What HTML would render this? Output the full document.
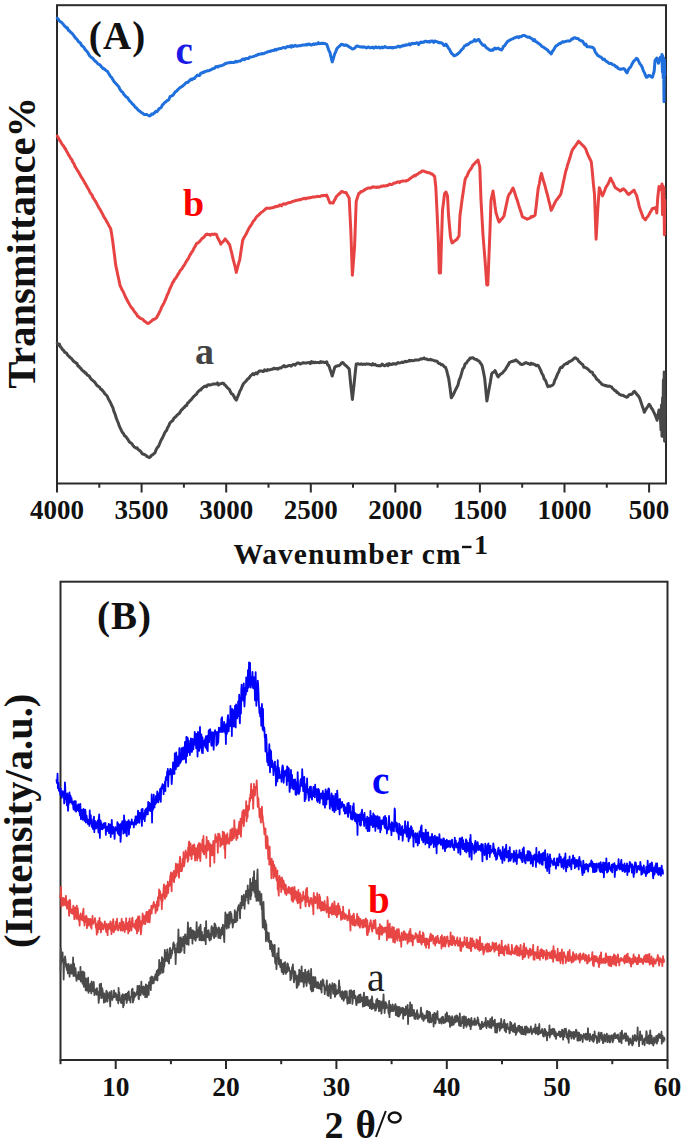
<!DOCTYPE html>
<html><head><meta charset="utf-8"><style>
html,body{margin:0;padding:0;background:#fff;}
body{width:685px;height:1143px;overflow:hidden;}
svg{display:block;}
text{font-family:"Liberation Serif",serif;}
</style></head><body>
<svg width="685" height="1143" viewBox="0 0 685 1143">
<rect width="685" height="1143" fill="#fff"/>
<!-- Panel A -->
<rect x="57" y="5.2" width="609" height="478.3" fill="none" stroke="#2a2a2a" stroke-width="2"/>
<g fill="none" stroke-linejoin="round" stroke-linecap="round">
<path d="M57.3,18.1 L58.3,19.2 L59.3,20.8 L60.3,21.8 L61.3,22.1 L62.3,23.2 L63.3,24.2 L64.3,25.8 L65.3,26.5 L66.4,27.9 L67.4,27.8 L68.4,30.4 L69.4,30.7 L70.4,32.1 L71.4,32.8 L72.4,33.8 L73.4,35.0 L74.4,36.5 L75.5,38.0 L76.5,38.8 L77.5,40.1 L78.5,41.8 L79.6,42.4 L80.6,43.4 L81.6,45.5 L82.7,46.3 L83.7,47.1 L84.7,48.9 L85.8,50.3 L86.8,51.3 L87.8,52.4 L88.8,54.4 L89.9,56.1 L90.9,57.0 L91.9,57.8 L93.0,58.5 L94.0,60.0 L95.0,61.1 L96.0,61.6 L97.1,62.9 L98.1,64.1 L99.1,64.4 L100.2,65.1 L101.2,66.6 L102.2,67.5 L103.3,68.8 L104.3,68.7 L105.3,69.9 L106.3,70.7 L107.4,71.3 L108.4,73.0 L109.5,74.7 L110.6,76.5 L111.7,77.5 L112.8,79.5 L114.0,81.5 L115.1,82.7 L116.3,84.0 L117.4,85.3 L118.6,86.5 L120.0,89.4 L121.5,91.5 L122.7,92.2 L123.8,94.4 L125.0,95.5 L126.3,97.2 L127.5,97.6 L128.8,99.8 L129.9,101.2 L131.0,102.1 L132.1,103.8 L133.2,104.5 L134.3,105.9 L135.4,107.2 L136.5,107.9 L137.6,109.5 L138.8,110.6 L139.9,111.2 L141.1,112.4 L142.2,112.8 L143.4,113.9 L144.4,114.6 L145.5,114.6 L146.5,114.4 L147.6,115.0 L148.6,115.5 L149.7,115.9 L150.7,115.3 L151.7,113.9 L152.8,114.3 L153.8,113.4 L154.9,112.5 L155.9,111.3 L157.0,111.7 L158.0,110.4 L159.1,108.6 L160.2,108.2 L161.3,107.3 L162.4,104.8 L163.5,104.2 L164.6,102.5 L165.7,102.0 L166.8,100.7 L167.9,100.3 L168.9,99.5 L170.0,96.7 L171.1,96.2 L172.1,95.7 L173.2,95.0 L174.2,93.4 L175.3,91.9 L176.4,91.3 L177.4,90.1 L178.5,89.0 L179.5,88.1 L180.6,87.1 L181.6,86.8 L182.7,86.0 L183.7,85.0 L184.8,84.2 L185.8,82.9 L186.9,82.5 L187.9,82.4 L189.0,81.0 L190.0,80.3 L191.1,79.0 L192.1,79.6 L193.2,78.5 L194.3,78.6 L195.4,77.0 L196.4,76.1 L197.5,75.0 L198.6,75.6 L199.7,75.5 L200.7,73.3 L201.8,73.0 L202.9,72.3 L203.9,72.5 L205.0,71.4 L206.1,71.3 L207.1,70.8 L208.2,70.7 L209.2,70.7 L210.3,69.8 L211.4,69.8 L212.4,68.8 L213.5,68.6 L214.6,68.3 L215.6,66.7 L216.7,66.6 L217.8,67.1 L218.8,66.1 L219.9,66.1 L220.9,65.7 L222.0,65.6 L223.1,64.9 L224.1,64.5 L225.2,63.6 L226.3,63.4 L227.3,63.0 L228.4,62.8 L229.5,62.8 L230.5,62.3 L231.6,62.4 L232.6,62.5 L233.7,62.5 L234.8,62.1 L235.8,61.2 L236.9,61.9 L238.0,61.4 L239.1,61.1 L240.2,61.1 L241.2,60.4 L242.3,59.4 L243.4,58.9 L244.5,59.7 L245.6,58.4 L246.6,58.5 L247.7,58.6 L248.7,58.5 L249.8,56.9 L250.8,57.1 L251.8,56.9 L252.9,56.6 L253.9,56.3 L255.0,55.9 L256.0,55.5 L257.0,55.3 L258.0,54.2 L259.0,54.5 L260.0,54.0 L261.0,54.1 L262.0,53.5 L263.0,53.7 L264.0,53.5 L265.0,52.9 L266.0,52.6 L267.0,52.2 L268.0,51.7 L269.0,51.5 L270.0,51.1 L271.0,51.2 L272.0,50.7 L273.0,50.5 L274.0,50.5 L275.0,49.4 L276.1,50.1 L277.1,49.1 L278.1,48.9 L279.1,48.9 L280.1,48.5 L281.1,48.6 L282.1,48.0 L283.1,47.5 L284.1,47.4 L285.2,48.1 L286.2,47.3 L287.2,46.5 L288.2,46.8 L289.2,46.7 L290.2,45.9 L291.2,47.2 L292.2,45.6 L293.2,46.4 L294.2,46.3 L295.2,45.3 L296.2,46.0 L297.2,46.2 L298.2,45.8 L299.2,45.6 L300.2,45.8 L301.2,45.3 L302.2,45.3 L303.2,45.0 L304.2,44.9 L305.2,45.1 L306.2,44.3 L307.2,45.0 L308.2,44.3 L309.2,44.0 L310.2,44.6 L311.2,45.1 L312.2,44.7 L313.3,43.9 L314.3,44.4 L315.3,43.8 L316.3,43.9 L317.3,43.9 L318.3,42.7 L319.3,43.8 L320.3,43.6 L321.4,43.3 L322.4,43.5 L323.5,43.3 L324.6,43.4 L325.6,43.8 L326.7,44.3 L327.8,47.3 L328.8,50.4 L329.9,52.3 L331.0,57.1 L332.2,61.9 L333.4,58.4 L334.7,53.9 L335.8,51.6 L336.8,48.8 L337.9,47.5 L339.0,46.5 L340.1,45.6 L341.2,44.3 L342.3,44.4 L343.3,45.0 L344.4,45.4 L345.5,45.0 L346.5,45.0 L347.6,45.9 L348.8,46.6 L350.0,47.4 L351.2,48.1 L352.4,49.0 L353.6,48.7 L354.8,48.2 L356.0,46.5 L357.2,45.9 L358.4,46.4 L359.6,46.8 L360.8,46.9 L362.0,46.8 L363.1,47.3 L364.1,46.7 L365.2,47.3 L366.3,47.9 L367.4,47.5 L368.4,46.9 L369.5,47.5 L370.6,47.8 L371.7,47.5 L372.8,47.1 L373.8,48.1 L374.9,47.5 L375.9,46.9 L376.9,47.7 L377.9,47.5 L378.9,47.0 L379.9,48.0 L380.9,47.7 L381.9,47.0 L382.9,47.8 L383.9,47.3 L385.0,46.6 L386.0,47.2 L387.0,47.6 L388.0,47.8 L389.0,47.6 L390.0,47.5 L391.0,47.7 L392.0,47.4 L393.0,48.0 L394.0,47.5 L395.0,47.4 L396.0,47.2 L397.0,47.1 L398.0,46.2 L399.0,46.2 L400.0,47.0 L401.0,46.3 L402.0,45.8 L403.0,45.9 L404.0,45.3 L405.0,45.4 L406.0,44.8 L407.0,44.9 L408.1,44.8 L409.1,43.8 L410.2,44.9 L411.3,43.9 L412.3,43.3 L413.4,43.7 L414.5,43.4 L415.5,43.5 L416.6,42.7 L417.7,43.2 L418.7,44.5 L419.8,42.7 L420.9,42.0 L421.9,42.6 L423.0,42.1 L424.1,42.2 L425.2,41.2 L426.2,41.3 L427.3,41.9 L428.4,41.5 L429.5,42.2 L430.6,41.0 L431.6,41.2 L432.7,41.0 L433.7,42.5 L434.7,41.1 L435.7,41.2 L436.7,41.8 L437.7,42.0 L438.7,42.7 L439.7,42.5 L440.7,42.7 L441.8,42.9 L442.8,43.9 L443.9,45.5 L445.0,45.4 L446.0,44.1 L447.1,45.9 L448.3,47.8 L449.6,49.5 L450.8,52.2 L452.0,53.9 L453.0,54.4 L454.0,55.8 L455.0,55.5 L456.1,55.1 L457.3,54.3 L458.5,53.2 L459.6,52.3 L460.8,50.7 L462.1,49.3 L463.3,48.1 L464.5,45.9 L465.5,45.6 L466.5,44.7 L467.5,44.9 L468.5,43.9 L469.5,43.2 L470.5,42.4 L471.5,42.0 L472.5,41.7 L473.6,41.0 L474.6,39.7 L475.7,41.1 L476.8,40.5 L477.8,39.8 L478.9,39.5 L480.0,41.6 L481.0,42.9 L482.1,44.3 L483.3,45.4 L484.5,45.1 L485.7,47.0 L486.9,48.1 L488.1,48.8 L489.3,49.8 L490.5,50.4 L491.7,50.0 L492.8,50.3 L493.9,48.8 L494.9,48.1 L496.0,49.0 L497.1,48.4 L498.2,48.1 L499.3,49.2 L500.3,49.3 L501.4,50.0 L502.5,48.6 L503.5,46.4 L504.6,45.8 L505.7,43.9 L506.7,42.7 L507.8,41.1 L508.9,40.8 L509.9,39.9 L511.0,39.6 L512.1,38.9 L513.1,38.7 L514.2,37.8 L515.3,37.8 L516.4,37.1 L517.4,36.8 L518.5,37.6 L519.6,36.5 L520.7,36.8 L521.7,36.3 L522.8,35.6 L523.9,35.6 L525.0,35.6 L526.0,36.4 L527.1,36.8 L528.2,37.3 L529.2,36.9 L530.3,37.8 L531.4,38.3 L532.4,39.2 L533.5,40.7 L534.6,39.6 L535.6,41.6 L536.7,41.9 L537.8,43.0 L538.8,43.4 L539.9,44.3 L541.0,45.3 L542.0,46.6 L543.1,46.9 L544.2,47.7 L545.2,48.5 L546.3,49.1 L547.5,50.0 L548.8,51.7 L550.0,52.6 L551.2,53.9 L552.4,51.5 L553.6,49.9 L554.8,47.8 L556.0,45.9 L557.1,45.5 L558.1,44.5 L559.2,43.6 L560.3,43.8 L561.3,42.8 L562.4,41.7 L563.5,42.2 L564.5,41.8 L565.6,41.4 L566.7,41.1 L567.7,41.1 L568.8,41.1 L569.9,41.0 L570.9,40.1 L572.0,38.8 L573.1,38.9 L574.1,37.7 L575.2,37.8 L576.3,38.4 L577.4,38.4 L578.5,38.9 L579.5,40.1 L580.6,40.5 L581.7,41.1 L582.8,41.3 L583.8,43.3 L584.9,44.9 L586.0,44.2 L587.0,46.7 L588.1,46.8 L589.3,46.7 L590.5,46.9 L591.7,47.2 L592.9,47.5 L594.1,48.8 L595.3,52.1 L596.5,53.7 L597.7,55.5 L598.8,55.9 L599.9,56.8 L600.9,57.0 L602.0,58.2 L603.1,59.5 L604.2,59.0 L605.2,60.3 L606.3,61.3 L607.4,61.9 L608.5,62.9 L609.5,63.6 L610.6,63.3 L611.7,63.7 L612.7,64.8 L613.8,64.9 L614.9,65.5 L615.9,66.7 L617.0,66.7 L618.0,68.4 L619.0,68.6 L620.0,69.4 L621.2,69.0 L622.3,69.1 L623.5,68.5 L624.7,69.1 L625.8,71.4 L627.0,72.9 L628.3,69.8 L629.6,67.7 L630.7,67.0 L631.8,64.5 L632.9,62.5 L634.0,60.7 L635.2,60.0 L636.3,58.4 L637.5,58.9 L638.7,61.3 L639.8,63.7 L641.0,65.0 L642.2,67.3 L643.3,70.6 L644.5,72.9 L646.3,77.3 L647.5,77.0 L648.6,75.4 L649.8,75.5 L651.1,76.8 L652.4,77.3 L654.2,71.2 L655.0,60.7 L656.8,58.0 L658.5,63.3 L660.3,57.2 L661.5,60.0 L662.0,54.5 L662.4,72.0 L662.8,56.0 L663.2,78.0 L663.6,58.0 L664.0,101.8 L664.4,60.0 L664.8,75.0" stroke="#1f6fdd" stroke-width="3"/>
<path d="M57.3,136.1 L58.3,137.8 L59.3,139.7 L60.4,141.3 L61.4,143.0 L62.4,144.9 L63.4,145.7 L64.4,147.5 L65.5,149.0 L66.5,151.0 L67.5,152.7 L68.6,154.9 L69.6,156.4 L70.7,158.4 L71.8,159.6 L72.8,162.1 L73.9,163.6 L74.9,166.3 L76.0,167.9 L77.1,169.8 L78.1,171.3 L79.2,173.2 L80.3,175.2 L81.3,177.1 L82.4,178.7 L83.5,180.5 L84.5,182.4 L85.6,184.1 L86.6,186.0 L87.7,188.0 L88.8,189.7 L89.8,192.0 L90.9,193.6 L92.0,195.0 L93.0,197.6 L94.1,199.0 L95.2,200.9 L96.2,202.5 L97.3,204.7 L98.3,206.5 L99.4,208.5 L100.5,210.1 L101.5,212.2 L102.6,214.0 L103.6,216.4 L104.6,217.8 L105.6,219.3 L106.7,221.6 L107.7,223.1 L108.7,225.2 L109.7,227.0 L110.7,228.7 L111.8,235.1 L112.8,241.8 L114.2,252.9 L115.7,265.1 L116.8,270.1 L117.9,275.5 L119.0,280.4 L120.1,285.6 L121.2,287.9 L122.3,290.3 L123.4,292.0 L124.5,294.7 L125.5,297.0 L126.6,299.0 L127.7,301.3 L128.8,303.1 L129.9,305.1 L131.0,307.1 L132.1,308.1 L133.2,309.7 L134.3,311.5 L135.4,312.7 L136.5,314.1 L137.6,316.2 L138.6,316.7 L139.6,317.8 L140.7,318.5 L141.7,318.7 L142.7,319.3 L143.7,320.5 L144.7,321.3 L145.8,322.0 L146.8,323.0 L147.8,323.5 L148.9,323.1 L150.0,322.1 L151.1,321.5 L152.2,320.3 L153.3,319.5 L154.4,319.2 L155.5,318.6 L156.6,317.7 L157.6,315.8 L158.7,313.7 L159.7,311.7 L160.8,309.6 L161.8,306.7 L162.9,305.0 L163.9,303.1 L165.0,300.7 L166.1,298.2 L167.2,295.0 L168.2,293.3 L169.3,290.2 L170.4,287.7 L171.5,285.3 L172.6,282.7 L173.7,281.3 L174.7,279.1 L175.8,278.2 L176.9,276.3 L177.9,274.5 L179.0,273.0 L180.0,270.8 L181.1,269.7 L182.2,268.4 L183.2,266.5 L184.3,265.1 L185.4,263.1 L186.4,261.3 L187.5,259.6 L188.6,258.0 L189.6,255.8 L190.7,253.9 L191.7,252.3 L192.8,250.9 L193.9,248.3 L194.9,246.7 L196.0,244.7 L197.0,243.2 L198.0,243.1 L199.1,241.8 L200.1,241.0 L201.1,239.6 L202.1,238.3 L203.1,237.8 L204.2,236.8 L205.2,235.3 L206.2,234.5 L207.2,234.1 L208.2,234.6 L209.3,234.4 L210.3,235.3 L211.3,234.3 L212.3,234.3 L213.3,234.5 L214.4,234.0 L215.4,234.2 L216.4,234.5 L217.5,237.4 L218.6,239.3 L219.7,241.5 L220.8,244.1 L221.9,242.4 L223.0,241.7 L224.1,240.4 L225.2,238.9 L226.3,240.4 L227.4,241.7 L228.5,243.3 L229.6,244.7 L230.7,249.2 L231.8,253.2 L232.8,258.0 L233.9,262.2 L235.1,266.7 L236.3,272.4 L237.5,267.6 L238.6,263.6 L239.8,259.3 L241.2,249.8 L242.7,240.3 L243.8,237.8 L245.0,236.0 L246.1,234.0 L247.3,231.6 L248.4,229.4 L249.6,227.1 L250.7,225.7 L251.8,224.0 L252.9,221.9 L253.9,220.6 L255.0,219.4 L256.1,217.4 L257.2,216.1 L258.2,215.5 L259.3,214.4 L260.4,213.3 L261.4,212.3 L262.5,211.7 L263.6,210.8 L264.6,209.8 L265.7,208.8 L266.8,208.1 L267.8,208.3 L268.9,208.3 L270.0,208.2 L271.0,207.9 L272.1,207.7 L273.2,207.6 L274.2,207.3 L275.3,206.6 L276.4,206.7 L277.4,206.2 L278.5,206.2 L279.5,205.1 L280.5,205.0 L281.5,205.8 L282.5,204.5 L283.5,203.8 L284.5,204.0 L285.5,204.2 L286.6,203.4 L287.6,203.2 L288.6,202.7 L289.6,202.4 L290.6,202.5 L291.6,202.0 L292.6,201.4 L293.6,201.3 L294.6,200.7 L295.6,200.8 L296.6,200.2 L297.6,200.2 L298.6,200.0 L299.6,199.5 L300.6,199.8 L301.6,199.2 L302.6,198.9 L303.6,198.4 L304.6,198.3 L305.6,199.0 L306.6,198.0 L307.6,198.2 L308.6,197.8 L309.6,197.9 L310.6,197.5 L311.6,197.5 L312.6,197.0 L313.6,196.9 L314.6,196.9 L315.6,196.8 L316.6,196.6 L317.6,196.3 L318.6,196.4 L319.7,196.5 L320.7,196.1 L321.7,195.6 L322.7,195.7 L323.7,195.5 L324.7,195.5 L325.7,195.7 L326.7,195.0 L327.8,197.6 L328.8,200.3 L329.9,203.0 L331.0,202.7 L332.0,202.9 L333.1,203.0 L334.2,200.7 L335.2,199.2 L336.3,196.6 L337.5,195.5 L338.8,194.0 L340.0,193.5 L341.2,191.7 L342.4,191.5 L343.6,192.3 L344.8,192.5 L346.0,192.4 L347.1,194.5 L348.1,196.2 L349.2,198.2 L350.8,230.3 L352.4,275.2 L353.5,260.7 L354.6,246.3 L356.2,201.4 L357.5,197.3 L358.8,193.4 L359.9,193.0 L361.0,191.5 L362.0,191.4 L363.1,191.0 L364.2,190.2 L365.3,189.2 L366.3,189.0 L367.4,188.3 L368.5,187.9 L369.5,188.0 L370.5,188.1 L371.5,187.6 L372.5,186.8 L373.5,187.2 L374.5,186.9 L375.5,187.3 L376.5,187.5 L377.5,186.9 L378.5,187.3 L379.5,187.0 L380.5,186.7 L381.5,186.1 L382.5,186.3 L383.5,185.7 L384.5,186.0 L385.5,186.1 L386.5,185.5 L387.5,185.6 L388.5,185.0 L389.5,184.1 L390.5,184.5 L391.5,184.4 L392.6,184.3 L393.6,183.2 L394.6,183.0 L395.6,183.0 L396.6,182.4 L397.6,182.0 L398.6,181.8 L399.6,182.6 L400.6,181.5 L401.7,181.2 L402.7,180.9 L403.8,180.9 L404.9,180.9 L405.9,181.1 L407.0,180.5 L408.1,180.1 L409.1,179.4 L410.2,178.4 L411.3,177.8 L412.3,176.8 L413.4,176.3 L414.5,175.3 L415.5,175.7 L416.6,174.4 L417.7,174.2 L418.7,173.2 L419.8,172.7 L420.9,172.1 L421.9,171.1 L423.0,170.9 L424.0,171.2 L425.0,171.6 L426.0,172.1 L427.0,172.3 L428.0,172.7 L429.0,172.8 L430.0,173.0 L431.1,173.9 L432.3,174.1 L433.5,175.3 L434.6,176.3 L435.8,187.0 L437.3,217.5 L438.3,240.0 L439.3,273.0 L440.5,273.0 L441.5,240.0 L442.5,210.0 L443.5,202.5 L444.5,194.0 L446.0,192.0 L447.5,196.0 L448.5,215.0 L449.5,226.1 L450.5,237.0 L452.0,243.0 L453.0,242.5 L454.0,241.5 L455.0,240.6 L456.0,240.0 L457.0,239.3 L458.0,237.5 L459.0,236.0 L460.0,215.0 L461.0,208.0 L462.0,200.0 L463.0,193.5 L464.0,186.6 L465.0,180.0 L466.0,177.4 L467.0,176.1 L468.0,173.6 L469.0,171.4 L470.0,170.0 L471.0,168.7 L472.0,166.9 L473.0,165.0 L474.0,164.2 L475.0,163.0 L476.0,162.0 L477.0,161.2 L478.0,160.0 L479.8,167.0 L481.0,200.0 L482.0,217.6 L483.0,235.0 L484.0,247.5 L485.0,260.0 L486.8,285.0 L487.8,285.0 L488.8,260.0 L490.0,230.0 L491.0,200.0 L492.0,195.7 L493.0,191.0 L494.0,197.6 L495.0,206.0 L496.0,213.0 L497.0,215.8 L498.0,219.3 L499.0,222.0 L500.0,221.2 L501.0,219.4 L502.0,218.7 L503.0,217.5 L504.0,216.0 L505.0,211.1 L506.0,206.4 L507.0,201.8 L508.0,197.0 L509.0,194.5 L510.0,193.3 L511.0,191.7 L512.0,189.7 L513.0,188.0 L514.1,190.7 L515.2,194.2 L516.3,197.9 L517.4,200.6 L518.6,205.0 L519.8,208.6 L521.1,212.4 L522.3,216.7 L523.5,217.3 L524.7,218.0 L525.9,218.4 L527.1,219.3 L528.1,218.7 L529.1,218.4 L530.1,218.0 L531.1,216.5 L532.1,217.0 L533.1,216.2 L534.1,216.0 L535.1,215.1 L536.2,206.0 L537.2,197.0 L538.3,187.8 L539.4,183.5 L540.4,177.3 L541.5,173.4 L542.7,178.3 L543.9,182.3 L545.1,186.1 L546.3,191.0 L547.5,195.0 L548.8,200.7 L550.0,205.2 L551.2,210.3 L552.4,208.2 L553.6,205.5 L554.8,203.0 L556.0,200.6 L557.2,199.3 L558.4,197.5 L559.6,196.0 L560.8,194.2 L562.0,188.8 L563.2,183.0 L564.4,177.6 L565.6,171.7 L566.7,168.5 L567.7,164.4 L568.8,161.2 L569.9,157.8 L570.9,154.3 L572.0,150.9 L573.1,148.8 L574.1,147.5 L575.2,146.2 L576.3,144.5 L577.3,143.3 L578.4,141.2 L579.5,142.1 L580.6,143.2 L581.6,144.3 L582.7,145.4 L583.8,146.4 L584.9,147.7 L586.0,149.5 L587.0,152.6 L588.1,155.2 L589.2,157.6 L590.2,159.4 L591.3,162.1 L592.4,172.7 L593.4,184.1 L594.5,194.2 L596.1,239.2 L597.7,210.3 L599.3,187.8 L600.4,190.4 L601.4,193.2 L602.5,195.8 L603.6,193.1 L604.6,190.8 L605.7,187.8 L606.9,185.7 L608.2,183.7 L609.4,180.8 L610.6,178.2 L611.8,180.7 L613.0,182.6 L614.2,185.3 L615.4,187.8 L616.5,188.4 L617.7,189.3 L618.9,189.8 L620.0,191.0 L621.2,190.6 L622.3,189.2 L623.5,188.8 L624.6,190.0 L625.6,190.7 L626.7,192.3 L627.7,193.9 L628.8,194.5 L629.8,193.4 L630.9,192.8 L631.9,191.8 L633.0,191.1 L634.0,190.1 L635.3,192.9 L636.6,195.4 L638.0,200.9 L639.3,206.8 L640.6,210.4 L641.9,213.9 L643.2,217.7 L644.3,218.6 L645.4,219.9 L646.6,217.8 L647.7,216.7 L648.9,214.7 L650.1,212.4 L651.2,210.8 L652.4,208.5 L653.6,208.4 L654.7,207.7 L655.9,207.7 L656.8,212.9 L657.7,198.0 L659.0,186.6 L660.0,188.6 L661.0,190.0 L662.0,184.0 L662.5,214.7 L663.0,186.0 L663.5,210.0 L663.9,187.5 L664.4,234.8 L664.8,200.0" stroke="#e84343" stroke-width="3"/>
<path d="M57.3,343.1 L58.4,345.1 L59.4,344.1 L60.5,347.1 L61.6,347.9 L62.6,349.7 L63.7,350.5 L64.7,352.3 L65.8,352.7 L66.9,353.7 L67.9,355.4 L69.0,356.3 L70.0,357.5 L71.0,358.1 L72.0,359.2 L73.0,360.6 L74.0,361.6 L75.0,362.1 L76.0,363.1 L77.0,363.5 L78.0,366.1 L79.0,366.2 L80.0,367.9 L81.0,368.5 L82.0,370.2 L83.0,371.0 L84.0,371.4 L85.0,373.0 L86.0,372.9 L87.0,374.9 L88.0,375.3 L89.0,375.8 L90.1,377.7 L91.2,379.2 L92.2,379.9 L93.2,380.8 L94.3,381.7 L95.4,383.1 L96.4,384.8 L97.5,385.9 L98.5,386.5 L99.6,387.2 L100.6,389.2 L101.7,389.4 L102.7,390.9 L103.8,392.0 L104.8,393.8 L105.9,394.7 L106.9,395.7 L108.1,398.2 L109.3,400.5 L110.4,402.4 L111.6,405.3 L112.8,407.4 L113.9,411.3 L115.0,413.9 L116.1,417.5 L117.2,420.5 L118.3,423.0 L119.3,426.1 L120.4,428.4 L121.5,430.7 L122.5,432.6 L123.6,433.8 L124.6,435.9 L125.7,436.4 L126.7,437.9 L127.8,439.3 L128.8,441.0 L129.8,442.3 L130.9,442.8 L131.9,443.8 L133.0,445.4 L134.0,446.7 L135.1,447.4 L136.1,448.2 L137.1,447.8 L138.2,449.5 L139.2,450.2 L140.3,451.0 L141.3,452.2 L142.4,454.1 L143.4,454.1 L144.6,454.7 L145.8,455.2 L146.9,456.5 L148.1,456.9 L149.3,457.6 L150.5,456.7 L151.6,455.3 L152.8,454.6 L153.9,453.8 L155.1,452.6 L156.1,449.7 L157.2,447.7 L158.2,446.8 L159.3,444.6 L160.3,441.9 L161.4,439.6 L162.4,438.0 L163.4,435.8 L164.5,433.3 L165.5,431.6 L166.6,430.4 L167.6,427.6 L168.7,426.0 L169.7,423.4 L170.7,422.1 L171.8,421.3 L172.8,420.6 L173.9,418.2 L174.9,417.5 L176.0,416.4 L177.0,415.3 L178.0,414.3 L179.1,413.7 L180.1,412.2 L181.2,410.1 L182.2,409.5 L183.3,408.1 L184.3,407.4 L185.4,405.7 L186.5,405.8 L187.6,403.1 L188.7,402.4 L189.8,400.7 L190.9,400.1 L192.0,398.6 L193.1,397.2 L194.2,396.2 L195.3,395.0 L196.4,394.4 L197.4,392.4 L198.5,391.4 L199.6,390.1 L200.7,390.1 L201.8,388.4 L203.0,387.6 L204.2,386.5 L205.3,386.1 L206.5,386.7 L207.7,384.9 L208.8,384.7 L209.9,385.1 L211.0,384.8 L212.1,384.4 L213.1,384.0 L214.2,384.1 L215.3,384.0 L216.4,384.0 L217.4,382.9 L218.5,385.0 L219.5,384.2 L220.6,383.7 L221.6,383.5 L222.7,383.1 L223.7,383.4 L224.8,385.1 L225.9,385.8 L227.0,387.4 L228.1,388.4 L229.2,389.2 L230.3,391.5 L231.4,393.7 L232.5,394.2 L233.8,396.0 L235.0,398.5 L236.3,400.1 L237.5,397.2 L238.6,394.7 L239.8,391.3 L241.0,389.3 L242.1,386.5 L243.3,384.0 L244.4,382.6 L245.4,381.8 L246.5,380.6 L247.5,379.1 L248.6,378.5 L249.6,377.3 L250.7,375.6 L251.7,374.8 L252.8,373.7 L253.9,374.7 L255.0,373.5 L256.0,372.9 L257.1,373.8 L258.2,372.2 L259.2,371.0 L260.3,371.0 L261.4,370.9 L262.5,371.4 L263.6,371.5 L264.6,369.8 L265.7,370.5 L266.7,370.8 L267.7,369.5 L268.8,370.0 L269.8,369.8 L270.8,369.6 L271.8,369.2 L272.9,369.0 L273.9,368.2 L274.9,368.7 L275.9,368.8 L276.9,368.5 L278.0,369.1 L279.0,368.2 L280.0,367.8 L281.0,368.0 L282.1,367.1 L283.1,366.2 L284.1,365.6 L285.1,366.9 L286.2,366.4 L287.2,366.3 L288.2,365.7 L289.2,365.4 L290.2,365.5 L291.2,366.1 L292.2,365.2 L293.2,364.4 L294.2,364.5 L295.2,365.2 L296.2,363.9 L297.2,363.1 L298.2,363.0 L299.2,363.3 L300.2,364.1 L301.2,363.6 L302.2,363.1 L303.2,362.7 L304.2,363.1 L305.2,363.0 L306.2,362.9 L307.3,362.7 L308.3,362.8 L309.3,362.5 L310.3,363.6 L311.4,361.6 L312.4,362.7 L313.4,362.1 L314.4,362.8 L315.4,362.3 L316.5,362.6 L317.5,362.6 L318.5,362.4 L319.5,362.7 L320.6,361.5 L321.6,362.5 L322.6,361.9 L323.6,362.1 L324.7,362.6 L325.7,362.4 L326.7,361.8 L327.8,365.1 L328.8,365.5 L329.9,368.9 L331.0,372.0 L332.2,376.0 L333.4,372.1 L334.7,367.3 L335.8,366.3 L336.8,366.2 L337.9,365.7 L339.1,365.7 L340.4,364.5 L341.6,362.9 L342.8,362.5 L343.9,363.8 L344.9,364.9 L346.0,365.7 L347.1,366.7 L348.1,367.9 L349.2,368.9 L350.8,385.0 L352.4,399.4 L354.0,385.0 L355.1,373.9 L356.2,364.1 L357.2,364.2 L358.2,363.7 L359.3,364.3 L360.3,364.3 L361.3,363.7 L362.4,364.4 L363.4,364.3 L364.4,364.1 L365.4,364.4 L366.4,364.0 L367.5,364.0 L368.5,364.1 L369.6,364.3 L370.6,364.4 L371.7,365.1 L372.8,363.7 L373.8,364.8 L374.9,364.3 L376.0,365.1 L377.0,365.6 L378.1,365.7 L379.1,365.6 L380.1,365.9 L381.1,365.5 L382.1,364.1 L383.1,364.7 L384.1,365.8 L385.1,365.7 L386.1,364.9 L387.1,364.1 L388.1,365.7 L389.1,363.6 L390.1,364.6 L391.1,364.3 L392.1,364.4 L393.1,363.6 L394.1,364.1 L395.1,363.7 L396.1,364.2 L397.1,363.2 L398.1,362.6 L399.1,363.1 L400.1,362.9 L401.1,362.6 L402.1,362.1 L403.2,362.5 L404.2,362.0 L405.2,361.3 L406.2,361.8 L407.2,361.4 L408.2,361.3 L409.2,360.3 L410.2,360.9 L411.3,360.3 L412.3,360.7 L413.4,360.7 L414.5,360.3 L415.5,360.0 L416.6,360.0 L417.7,360.0 L418.7,360.1 L419.8,359.4 L420.9,358.7 L421.9,359.0 L423.0,358.6 L424.1,357.9 L425.1,359.0 L426.2,359.0 L427.3,359.3 L428.4,359.8 L429.4,359.8 L430.5,359.3 L431.6,360.0 L432.7,360.0 L433.8,360.5 L434.8,360.9 L435.9,360.9 L437.0,361.2 L438.0,362.6 L439.1,363.6 L440.2,363.6 L441.2,364.8 L442.3,364.5 L443.4,365.6 L444.4,367.0 L445.5,367.3 L446.6,370.2 L447.6,374.5 L448.7,378.5 L450.0,387.7 L451.3,397.8 L452.5,396.2 L453.6,394.0 L454.8,391.4 L455.9,389.0 L456.9,387.2 L458.0,385.0 L459.2,379.8 L460.4,377.3 L461.6,373.1 L462.8,368.9 L464.0,367.5 L465.2,363.8 L466.5,363.1 L467.7,360.9 L468.9,359.9 L470.1,358.1 L471.3,358.2 L472.5,357.7 L473.6,358.2 L474.6,359.1 L475.7,359.4 L476.8,359.6 L477.8,360.6 L478.9,360.9 L480.0,362.4 L481.0,363.8 L482.1,365.7 L483.4,371.6 L484.7,378.5 L485.8,389.8 L486.9,401.0 L488.0,394.7 L489.2,388.2 L490.4,381.8 L491.7,373.7 L492.8,372.4 L493.9,372.3 L495.0,370.5 L496.1,372.8 L497.1,375.3 L498.2,376.9 L499.3,375.4 L500.3,374.4 L501.4,373.6 L502.5,373.0 L503.5,371.6 L504.6,370.5 L505.8,368.8 L507.0,366.6 L508.2,365.0 L509.4,362.5 L510.5,362.2 L511.5,361.4 L512.6,361.4 L513.7,360.8 L514.7,361.1 L515.8,359.9 L517.0,360.9 L518.2,362.0 L519.4,362.9 L520.6,364.1 L521.7,364.5 L522.8,364.2 L523.9,363.9 L524.9,362.9 L526.0,362.6 L527.1,363.1 L528.1,363.5 L529.1,363.9 L530.2,364.5 L531.2,363.2 L532.2,364.2 L533.2,363.8 L534.2,364.3 L535.2,364.9 L536.3,365.7 L537.3,365.2 L538.3,365.7 L539.5,367.8 L540.7,370.4 L541.9,373.5 L543.1,375.3 L544.3,379.2 L545.5,380.3 L546.7,383.7 L547.9,386.6 L549.1,386.0 L550.3,386.3 L551.6,385.6 L552.8,385.0 L553.8,383.5 L554.8,380.1 L555.8,378.4 L556.8,375.9 L557.8,373.4 L558.8,371.7 L559.8,369.0 L560.8,367.3 L562.0,367.5 L563.2,365.9 L564.4,364.4 L565.6,364.1 L566.7,363.1 L567.7,363.5 L568.8,361.8 L569.9,361.6 L570.9,360.8 L572.0,360.3 L573.1,359.4 L574.1,358.3 L575.2,357.7 L576.3,358.5 L577.4,359.0 L578.4,360.9 L579.5,362.0 L580.6,362.9 L581.7,364.0 L582.7,364.6 L583.8,367.2 L584.9,367.3 L586.0,367.9 L587.0,368.4 L588.1,369.4 L589.2,370.4 L590.2,371.6 L591.3,372.1 L592.3,372.2 L593.3,374.7 L594.3,375.4 L595.3,376.8 L596.3,378.6 L597.3,379.6 L598.3,380.2 L599.3,381.7 L600.5,382.5 L601.7,384.2 L602.9,384.8 L604.1,385.0 L605.2,385.7 L606.3,385.5 L607.4,386.2 L608.4,386.2 L609.5,386.1 L610.6,386.6 L611.7,387.0 L612.7,388.6 L613.8,389.4 L614.9,390.7 L615.9,390.8 L617.0,392.6 L618.1,392.7 L619.1,394.3 L620.2,394.6 L621.3,395.3 L622.3,395.2 L623.4,395.5 L624.5,396.3 L625.5,396.6 L626.6,397.2 L627.6,396.9 L628.6,395.4 L629.6,394.4 L630.6,394.3 L631.6,394.4 L632.6,393.6 L633.6,391.8 L634.6,391.4 L635.8,392.9 L637.0,394.7 L638.3,395.9 L639.5,397.8 L640.7,401.3 L641.9,404.9 L643.1,408.2 L644.3,412.3 L645.5,410.0 L646.7,408.0 L647.9,406.3 L649.1,404.2 L650.3,405.7 L651.5,408.3 L652.7,409.8 L653.9,412.3 L655.0,414.6 L656.0,417.1 L657.1,420.3 L659.0,410.0 L660.3,413.9 L661.0,430.0 L661.5,405.0 L662.0,436.3 L662.6,397.8 L663.0,425.0 L663.4,380.0 L663.8,435.0 L664.2,372.1 L664.6,441.2 L665.0,400.0" stroke="#474747" stroke-width="3"/>
</g>
<g stroke="#2a2a2a" stroke-width="2"><line x1="57.0" y1="483.5" x2="57.0" y2="492.5"/>
<line x1="99.3" y1="483.5" x2="99.3" y2="487.7"/>
<line x1="141.6" y1="483.5" x2="141.6" y2="492.5"/>
<line x1="183.9" y1="483.5" x2="183.9" y2="487.7"/>
<line x1="226.2" y1="483.5" x2="226.2" y2="492.5"/>
<line x1="268.5" y1="483.5" x2="268.5" y2="487.7"/>
<line x1="310.8" y1="483.5" x2="310.8" y2="492.5"/>
<line x1="353.0" y1="483.5" x2="353.0" y2="487.7"/>
<line x1="395.3" y1="483.5" x2="395.3" y2="492.5"/>
<line x1="437.6" y1="483.5" x2="437.6" y2="487.7"/>
<line x1="479.9" y1="483.5" x2="479.9" y2="492.5"/>
<line x1="522.2" y1="483.5" x2="522.2" y2="487.7"/>
<line x1="564.5" y1="483.5" x2="564.5" y2="492.5"/>
<line x1="606.8" y1="483.5" x2="606.8" y2="487.7"/>
<line x1="649.1" y1="483.5" x2="649.1" y2="492.5"/></g>
<g font-size="27" font-weight="bold" fill="#111"><text x="57.0" y="519" text-anchor="middle">4000</text>
<text x="141.6" y="519" text-anchor="middle">3500</text>
<text x="226.2" y="519" text-anchor="middle">3000</text>
<text x="310.8" y="519" text-anchor="middle">2500</text>
<text x="395.3" y="519" text-anchor="middle">2000</text>
<text x="479.9" y="519" text-anchor="middle">1500</text>
<text x="564.5" y="519" text-anchor="middle">1000</text>
<text x="649.1" y="519" text-anchor="middle">500</text></g>
<text x="88.8" y="48.6" font-size="39" font-weight="bold" fill="#111" letter-spacing="1.2">(A)</text>
<text x="175.5" y="64" font-size="39" font-weight="bold" fill="#1a1ae6">c</text>
<text x="183" y="216" font-size="38" font-weight="bold" fill="#f00">b</text>
<text x="195" y="364" font-size="38" font-weight="bold" fill="#444">a</text>
<text transform="translate(34.6,388.8) rotate(-90)" font-size="40.5" font-weight="bold" fill="#111">Transmittance%</text>
<text x="233.5" y="563.5" font-size="29.5" font-weight="bold" fill="#111" letter-spacing="1">Wavenumber cm</text>
<rect x="462" y="545.8" width="9.5" height="2.4" fill="#111"/>
<text x="474" y="554" font-size="28" font-weight="bold" fill="#111">1</text>
<!-- Panel B -->
<rect x="60.5" y="581.7" width="607" height="478.3" fill="none" stroke="#2a2a2a" stroke-width="2"/>
<g fill="none" stroke-linejoin="round">
<path d="M56.50,779.1 L56.85,783.0 L57.20,781.4 L57.55,773.7 L57.90,788.2 L58.25,787.1 L58.60,783.0 L58.95,790.6 L59.30,790.6 L59.65,791.3 L60.00,791.0 L60.35,794.9 L60.70,788.7 L61.05,792.7 L61.40,791.5 L61.75,797.8 L62.10,795.0 L62.45,793.5 L62.80,791.1 L63.15,794.2 L63.50,795.9 L63.85,794.6 L64.20,803.4 L64.55,802.1 L64.90,782.3 L65.25,787.0 L65.60,796.6 L65.95,795.6 L66.30,799.4 L66.65,799.8 L67.00,805.4 L67.35,793.3 L67.70,797.6 L68.05,810.8 L68.40,803.7 L68.75,804.1 L69.10,798.1 L69.45,792.4 L69.80,802.4 L70.15,802.4 L70.50,795.6 L70.85,798.8 L71.20,802.3 L71.55,798.1 L71.90,802.8 L72.25,804.1 L72.60,804.1 L72.95,801.6 L73.30,807.6 L73.65,809.5 L74.00,806.8 L74.35,801.2 L74.70,809.6 L75.05,803.5 L75.40,810.9 L75.75,801.2 L76.10,811.7 L76.45,807.2 L76.80,805.6 L77.15,806.5 L77.50,808.8 L77.85,810.3 L78.20,804.4 L78.55,804.3 L78.90,811.3 L79.25,808.4 L79.60,812.4 L79.95,815.5 L80.30,803.9 L80.65,813.9 L81.00,819.2 L81.35,812.1 L81.70,810.0 L82.05,815.2 L82.40,816.2 L82.75,819.8 L83.10,814.1 L83.45,808.9 L83.80,816.0 L84.15,814.7 L84.50,820.9 L84.85,818.4 L85.20,809.7 L85.55,812.1 L85.90,822.5 L86.25,821.8 L86.60,815.6 L86.95,819.0 L87.30,821.4 L87.65,821.8 L88.00,824.0 L88.35,821.3 L88.70,819.9 L89.05,819.4 L89.40,825.9 L89.75,810.4 L90.10,820.7 L90.45,821.8 L90.80,815.2 L91.15,823.8 L91.50,819.4 L91.85,826.8 L92.20,822.3 L92.55,826.3 L92.90,829.0 L93.25,825.2 L93.60,819.4 L93.95,816.6 L94.30,832.1 L94.65,823.5 L95.00,820.9 L95.35,824.9 L95.70,823.5 L96.05,828.5 L96.40,824.8 L96.75,824.9 L97.10,821.6 L97.45,827.3 L97.80,820.4 L98.15,828.5 L98.50,832.6 L98.85,818.5 L99.20,814.3 L99.55,828.8 L99.90,837.9 L100.25,821.5 L100.60,820.5 L100.95,829.2 L101.30,822.7 L101.65,824.4 L102.00,825.2 L102.35,829.4 L102.70,825.2 L103.05,828.5 L103.40,826.5 L103.75,823.5 L104.10,826.1 L104.45,823.3 L104.80,827.8 L105.15,822.8 L105.50,823.0 L105.85,834.9 L106.20,828.0 L106.55,828.2 L106.90,830.9 L107.25,826.7 L107.60,827.7 L107.95,830.8 L108.30,830.3 L108.65,823.8 L109.00,833.1 L109.35,826.7 L109.70,824.6 L110.05,825.4 L110.40,827.8 L110.75,837.0 L111.10,824.2 L111.45,830.4 L111.80,819.9 L112.15,829.7 L112.50,833.8 L112.85,828.7 L113.20,826.9 L113.55,830.8 L113.90,833.0 L114.25,832.9 L114.60,838.9 L114.95,830.9 L115.30,827.2 L115.65,829.4 L116.00,829.6 L116.35,830.4 L116.70,829.7 L117.05,830.6 L117.40,822.1 L117.75,833.4 L118.10,826.9 L118.45,824.0 L118.80,832.2 L119.15,835.2 L119.50,831.3 L119.85,829.7 L120.20,824.6 L120.55,841.9 L120.90,836.5 L121.25,823.4 L121.60,824.9 L121.95,828.8 L122.30,821.1 L122.65,829.0 L123.00,826.0 L123.35,833.6 L123.70,832.3 L124.05,815.3 L124.40,827.9 L124.75,820.1 L125.10,832.6 L125.45,828.1 L125.80,829.7 L126.15,822.1 L126.50,835.4 L126.85,836.1 L127.20,821.7 L127.55,828.2 L127.90,823.2 L128.25,826.1 L128.60,820.2 L128.95,834.6 L129.30,821.3 L129.65,824.3 L130.00,827.9 L130.35,822.3 L130.70,824.1 L131.05,822.5 L131.40,824.3 L131.75,819.3 L132.10,822.6 L132.45,823.6 L132.80,822.8 L133.15,824.5 L133.50,822.7 L133.85,827.4 L134.20,822.1 L134.55,822.7 L134.90,819.9 L135.25,820.3 L135.60,816.4 L135.95,824.6 L136.30,816.4 L136.65,818.0 L137.00,823.0 L137.35,822.9 L137.70,816.7 L138.05,810.6 L138.40,822.1 L138.75,821.0 L139.10,812.6 L139.45,822.8 L139.80,815.4 L140.15,813.1 L140.50,818.7 L140.85,817.0 L141.20,818.6 L141.55,809.5 L141.90,825.9 L142.25,813.7 L142.60,808.8 L142.95,819.1 L143.30,814.0 L143.65,817.0 L144.00,813.3 L144.35,814.4 L144.70,821.1 L145.05,810.2 L145.40,817.0 L145.75,810.9 L146.10,808.6 L146.45,812.9 L146.80,814.4 L147.15,810.7 L147.50,807.2 L147.85,814.3 L148.20,801.9 L148.55,805.2 L148.90,810.3 L149.25,802.8 L149.60,809.5 L149.95,808.8 L150.30,811.1 L150.65,803.7 L151.00,804.7 L151.35,809.2 L151.70,794.4 L152.05,822.6 L152.40,802.5 L152.75,801.8 L153.10,809.5 L153.45,801.1 L153.80,794.7 L154.15,806.8 L154.50,807.5 L154.85,800.1 L155.20,800.5 L155.55,804.0 L155.90,796.1 L156.25,802.8 L156.60,801.0 L156.95,795.8 L157.30,791.4 L157.65,797.1 L158.00,793.0 L158.35,802.4 L158.70,797.1 L159.05,799.8 L159.40,795.6 L159.75,795.5 L160.10,789.0 L160.45,796.3 L160.80,801.8 L161.15,789.4 L161.50,787.0 L161.85,788.7 L162.20,786.2 L162.55,784.2 L162.90,788.2 L163.25,785.0 L163.60,794.1 L163.95,785.2 L164.30,786.4 L164.65,789.3 L165.00,781.5 L165.35,791.0 L165.70,778.5 L166.05,776.9 L166.40,778.9 L166.75,779.8 L167.10,771.7 L167.45,779.2 L167.80,769.0 L168.15,786.5 L168.50,777.3 L168.85,773.4 L169.20,771.2 L169.55,773.8 L169.90,774.2 L170.25,768.8 L170.60,768.9 L170.95,772.8 L171.30,770.2 L171.65,784.1 L172.00,779.2 L172.35,771.8 L172.70,774.1 L173.05,762.4 L173.40,773.9 L173.75,769.2 L174.10,771.7 L174.45,773.9 L174.80,753.3 L175.15,768.4 L175.50,759.3 L175.85,769.2 L176.20,752.4 L176.55,761.0 L176.90,764.8 L177.25,766.7 L177.60,762.7 L177.95,756.5 L178.30,757.4 L178.65,765.9 L179.00,759.6 L179.35,748.1 L179.70,763.7 L180.05,760.3 L180.40,762.6 L180.75,754.1 L181.10,761.1 L181.45,748.1 L181.80,758.2 L182.15,750.7 L182.50,757.8 L182.85,759.5 L183.20,747.5 L183.55,751.5 L183.90,751.7 L184.25,758.8 L184.60,755.2 L184.95,741.9 L185.30,752.5 L185.65,754.0 L186.00,762.7 L186.35,736.8 L186.70,744.0 L187.05,756.1 L187.40,737.5 L187.75,738.1 L188.10,749.2 L188.45,752.3 L188.80,740.6 L189.15,748.6 L189.50,745.6 L189.85,755.0 L190.20,744.6 L190.55,751.3 L190.90,738.3 L191.25,743.1 L191.60,743.7 L191.95,752.0 L192.30,748.1 L192.65,739.0 L193.00,748.6 L193.35,749.2 L193.70,743.1 L194.05,742.0 L194.40,742.3 L194.75,732.0 L195.10,744.8 L195.45,745.0 L195.80,737.4 L196.15,748.3 L196.50,733.8 L196.85,739.3 L197.20,739.8 L197.55,756.6 L197.90,732.0 L198.25,746.7 L198.60,749.2 L198.95,745.3 L199.30,750.8 L199.65,735.8 L200.00,727.0 L200.35,747.8 L200.70,734.3 L201.05,740.2 L201.40,734.3 L201.75,749.5 L202.10,752.8 L202.45,737.3 L202.80,753.1 L203.15,742.9 L203.50,741.0 L203.85,742.2 L204.20,740.3 L204.55,745.7 L204.90,743.3 L205.25,738.5 L205.60,747.6 L205.95,736.1 L206.30,742.1 L206.65,742.8 L207.00,749.8 L207.35,735.8 L207.70,751.1 L208.05,740.0 L208.40,737.2 L208.75,730.3 L209.10,742.1 L209.45,735.6 L209.80,729.7 L210.15,729.3 L210.50,733.0 L210.85,731.9 L211.20,744.0 L211.55,745.8 L211.90,742.0 L212.25,738.1 L212.60,732.3 L212.95,735.4 L213.30,741.0 L213.65,749.6 L214.00,740.7 L214.35,732.0 L214.70,734.0 L215.05,730.1 L215.40,732.2 L215.75,731.7 L216.10,734.1 L216.45,745.5 L216.80,732.5 L217.15,741.6 L217.50,744.3 L217.85,732.0 L218.20,742.6 L218.55,736.0 L218.90,727.6 L219.25,732.2 L219.60,730.2 L219.95,728.1 L220.30,728.1 L220.65,730.3 L221.00,732.2 L221.35,718.5 L221.70,728.4 L222.05,717.2 L222.40,729.9 L222.75,732.2 L223.10,728.6 L223.45,729.3 L223.80,731.2 L224.15,721.8 L224.50,724.7 L224.85,729.9 L225.20,733.2 L225.55,728.5 L225.90,744.0 L226.25,724.4 L226.60,732.1 L226.95,733.8 L227.30,723.3 L227.65,718.0 L228.00,715.1 L228.35,724.7 L228.70,731.4 L229.05,725.0 L229.40,724.0 L229.75,719.6 L230.10,726.2 L230.45,705.9 L230.80,723.0 L231.15,721.0 L231.50,710.1 L231.85,736.0 L232.20,709.0 L232.55,710.9 L232.90,709.5 L233.25,726.3 L233.60,710.8 L233.95,726.5 L234.30,721.0 L234.65,718.1 L235.00,705.8 L235.35,710.5 L235.70,727.4 L236.05,704.4 L236.40,707.3 L236.75,711.7 L237.10,718.4 L237.45,713.3 L237.80,716.2 L238.15,701.4 L238.50,716.1 L238.85,712.3 L239.20,694.7 L239.55,718.2 L239.90,723.3 L240.25,698.4 L240.60,704.0 L240.95,713.6 L241.30,689.8 L241.65,684.6 L242.00,694.8 L242.35,693.6 L242.70,692.3 L243.05,700.7 L243.40,696.8 L243.75,683.3 L244.10,696.9 L244.45,706.5 L244.80,699.8 L245.15,692.7 L245.50,687.8 L245.85,694.7 L246.20,677.3 L246.55,687.7 L246.90,682.3 L247.25,691.4 L247.60,684.6 L247.95,670.2 L248.30,679.4 L248.65,687.6 L249.00,662.5 L249.35,671.1 L249.70,669.0 L250.05,662.8 L250.40,684.3 L250.75,687.6 L251.10,683.6 L251.45,679.1 L251.80,676.9 L252.15,679.7 L252.50,671.9 L252.85,686.4 L253.20,688.4 L253.55,688.4 L253.90,677.2 L254.25,683.6 L254.60,682.7 L254.95,700.3 L255.30,688.1 L255.65,672.2 L256.00,692.4 L256.35,705.8 L256.70,697.1 L257.05,700.1 L257.40,694.9 L257.75,680.6 L258.10,684.1 L258.45,691.0 L258.80,702.2 L259.15,707.9 L259.50,713.2 L259.85,707.5 L260.20,716.4 L260.55,712.6 L260.90,711.7 L261.25,725.7 L261.60,714.9 L261.95,704.0 L262.30,718.6 L262.65,729.3 L263.00,708.9 L263.35,730.7 L263.70,727.5 L264.05,727.2 L264.40,728.6 L264.75,737.1 L265.10,737.9 L265.45,751.5 L265.80,746.7 L266.15,734.7 L266.50,741.0 L266.85,752.7 L267.20,761.9 L267.55,753.1 L267.90,756.9 L268.25,765.3 L268.60,754.2 L268.95,753.6 L269.30,744.2 L269.65,754.2 L270.00,772.3 L270.35,749.8 L270.70,759.6 L271.05,751.2 L271.40,761.6 L271.75,767.0 L272.10,760.5 L272.45,767.2 L272.80,767.8 L273.15,766.6 L273.50,775.2 L273.85,769.9 L274.20,763.7 L274.55,762.0 L274.90,761.6 L275.25,770.4 L275.60,766.1 L275.95,785.5 L276.30,780.6 L276.65,768.6 L277.00,768.5 L277.35,781.4 L277.70,760.2 L278.05,769.5 L278.40,778.4 L278.75,767.5 L279.10,770.4 L279.45,771.4 L279.80,777.8 L280.15,774.9 L280.50,776.7 L280.85,778.2 L281.20,775.0 L281.55,781.8 L281.90,771.0 L282.25,767.1 L282.60,765.3 L282.95,766.5 L283.30,773.1 L283.65,782.8 L284.00,778.0 L284.35,773.7 L284.70,771.1 L285.05,774.6 L285.40,775.6 L285.75,774.9 L286.10,770.1 L286.45,776.0 L286.80,785.0 L287.15,766.5 L287.50,778.2 L287.85,767.4 L288.20,781.2 L288.55,776.1 L288.90,768.5 L289.25,781.6 L289.60,791.9 L289.95,782.2 L290.30,788.6 L290.65,781.7 L291.00,769.9 L291.35,785.6 L291.70,780.6 L292.05,774.8 L292.40,788.1 L292.75,785.5 L293.10,781.1 L293.45,789.4 L293.80,779.7 L294.15,788.7 L294.50,779.9 L294.85,788.6 L295.20,779.5 L295.55,794.6 L295.90,787.8 L296.25,794.8 L296.60,782.3 L296.95,784.5 L297.30,792.3 L297.65,772.2 L298.00,781.9 L298.35,793.9 L298.70,790.8 L299.05,793.8 L299.40,786.7 L299.75,791.7 L300.10,784.5 L300.45,781.0 L300.80,779.2 L301.15,785.8 L301.50,785.9 L301.85,785.5 L302.20,769.2 L302.55,778.0 L302.90,786.4 L303.25,791.1 L303.60,786.3 L303.95,784.7 L304.30,776.8 L304.65,801.2 L305.00,783.8 L305.35,799.5 L305.70,798.9 L306.05,791.8 L306.40,787.1 L306.75,791.2 L307.10,778.3 L307.45,792.1 L307.80,790.7 L308.15,793.8 L308.50,796.2 L308.85,800.7 L309.20,789.0 L309.55,797.1 L309.90,787.1 L310.25,786.7 L310.60,788.5 L310.95,786.6 L311.30,797.7 L311.65,797.5 L312.00,799.7 L312.35,792.7 L312.70,794.5 L313.05,790.0 L313.40,787.0 L313.75,796.0 L314.10,795.2 L314.45,787.8 L314.80,797.3 L315.15,784.7 L315.50,793.5 L315.85,791.2 L316.20,791.9 L316.55,789.1 L316.90,800.4 L317.25,798.5 L317.60,802.0 L317.95,796.4 L318.30,788.8 L318.65,794.0 L319.00,789.8 L319.35,798.9 L319.70,803.1 L320.05,798.5 L320.40,793.6 L320.75,795.0 L321.10,798.3 L321.45,793.4 L321.80,798.2 L322.15,798.6 L322.50,794.8 L322.85,790.8 L323.20,804.6 L323.55,793.7 L323.90,793.8 L324.25,802.6 L324.60,799.7 L324.95,807.7 L325.30,793.5 L325.65,789.4 L326.00,804.1 L326.35,804.3 L326.70,795.4 L327.05,791.6 L327.40,799.4 L327.75,790.4 L328.10,798.1 L328.45,788.4 L328.80,798.9 L329.15,789.0 L329.50,799.1 L329.85,808.6 L330.20,799.3 L330.55,804.9 L330.90,797.6 L331.25,796.4 L331.60,793.4 L331.95,807.0 L332.30,801.3 L332.65,810.4 L333.00,795.7 L333.35,801.0 L333.70,802.7 L334.05,809.9 L334.40,812.2 L334.75,799.4 L335.10,797.0 L335.45,794.0 L335.80,810.3 L336.15,803.0 L336.50,800.3 L336.85,803.6 L337.20,790.6 L337.55,795.2 L337.90,809.2 L338.25,806.6 L338.60,805.5 L338.95,799.7 L339.30,808.1 L339.65,814.4 L340.00,799.0 L340.35,805.6 L340.70,803.5 L341.05,807.8 L341.40,806.2 L341.75,805.5 L342.10,801.9 L342.45,806.6 L342.80,803.8 L343.15,806.4 L343.50,807.0 L343.85,810.9 L344.20,804.8 L344.55,806.4 L344.90,813.7 L345.25,807.4 L345.60,807.4 L345.95,813.3 L346.30,810.5 L346.65,809.8 L347.00,810.7 L347.35,803.5 L347.70,812.4 L348.05,817.0 L348.40,813.4 L348.75,802.9 L349.10,812.4 L349.45,806.6 L349.80,810.3 L350.15,812.3 L350.50,805.9 L350.85,818.8 L351.20,812.0 L351.55,816.5 L351.90,815.9 L352.25,819.7 L352.60,819.2 L352.95,806.1 L353.30,813.9 L353.65,803.3 L354.00,811.9 L354.35,817.9 L354.70,819.1 L355.05,821.2 L355.40,813.2 L355.75,816.8 L356.10,821.4 L356.45,819.9 L356.80,823.7 L357.15,814.4 L357.50,834.9 L357.85,816.6 L358.20,815.0 L358.55,820.0 L358.90,821.0 L359.25,820.2 L359.60,814.5 L359.95,825.0 L360.30,818.3 L360.65,825.6 L361.00,825.0 L361.35,812.2 L361.70,813.7 L362.05,809.7 L362.40,819.9 L362.75,819.1 L363.10,820.2 L363.45,815.1 L363.80,821.2 L364.15,826.0 L364.50,812.9 L364.85,818.5 L365.20,820.8 L365.55,819.1 L365.90,818.8 L366.25,828.4 L366.60,826.2 L366.95,824.2 L367.30,816.6 L367.65,831.1 L368.00,822.2 L368.35,817.8 L368.70,819.0 L369.05,818.4 L369.40,831.0 L369.75,822.0 L370.10,821.4 L370.45,810.9 L370.80,824.8 L371.15,816.4 L371.50,816.1 L371.85,824.5 L372.20,817.6 L372.55,825.8 L372.90,827.2 L373.25,813.4 L373.60,821.4 L373.95,814.6 L374.30,821.9 L374.65,826.6 L375.00,815.8 L375.35,830.9 L375.70,821.0 L376.05,816.9 L376.40,822.0 L376.75,826.4 L377.10,816.2 L377.45,822.8 L377.80,816.3 L378.15,828.6 L378.50,823.7 L378.85,821.0 L379.20,828.0 L379.55,817.1 L379.90,821.4 L380.25,832.1 L380.60,822.8 L380.95,829.9 L381.30,824.5 L381.65,820.3 L382.00,822.5 L382.35,824.1 L382.70,821.9 L383.05,820.0 L383.40,820.3 L383.75,817.1 L384.10,824.6 L384.45,826.0 L384.80,827.8 L385.15,815.9 L385.50,828.3 L385.85,824.5 L386.20,818.0 L386.55,825.3 L386.90,833.5 L387.25,827.5 L387.60,828.6 L387.95,829.7 L388.30,829.6 L388.65,825.4 L389.00,816.0 L389.35,822.3 L389.70,827.6 L390.05,823.8 L390.40,829.3 L390.75,830.0 L391.10,826.6 L391.45,835.2 L391.80,822.1 L392.15,831.1 L392.50,824.7 L392.85,823.4 L393.20,829.8 L393.55,824.4 L393.90,831.3 L394.25,822.1 L394.60,808.5 L394.95,810.0 L395.30,826.7 L395.65,826.2 L396.00,822.8 L396.35,831.2 L396.70,822.6 L397.05,823.9 L397.40,832.6 L397.75,833.1 L398.10,831.8 L398.45,830.4 L398.80,839.4 L399.15,823.6 L399.50,825.9 L399.85,824.9 L400.20,833.7 L400.55,828.5 L400.90,835.0 L401.25,834.5 L401.60,829.2 L401.95,826.7 L402.30,826.1 L402.65,840.8 L403.00,835.3 L403.35,833.8 L403.70,829.8 L404.05,830.6 L404.40,832.8 L404.75,830.3 L405.10,821.2 L405.45,831.9 L405.80,825.5 L406.15,833.8 L406.50,833.6 L406.85,836.7 L407.20,832.9 L407.55,836.7 L407.90,821.9 L408.25,833.6 L408.60,841.4 L408.95,828.4 L409.30,838.7 L409.65,837.3 L410.00,830.4 L410.35,837.6 L410.70,828.2 L411.05,826.1 L411.40,828.8 L411.75,827.5 L412.10,834.9 L412.45,833.6 L412.80,836.6 L413.15,830.7 L413.50,846.6 L413.85,835.1 L414.20,835.4 L414.55,837.7 L414.90,834.7 L415.25,833.1 L415.60,836.4 L415.95,842.4 L416.30,839.1 L416.65,840.5 L417.00,834.0 L417.35,833.2 L417.70,845.4 L418.05,835.7 L418.40,839.0 L418.75,840.2 L419.10,843.3 L419.45,831.3 L419.80,835.2 L420.15,835.5 L420.50,836.2 L420.85,827.1 L421.20,837.3 L421.55,825.3 L421.90,839.2 L422.25,840.3 L422.60,840.7 L422.95,832.9 L423.30,842.4 L423.65,834.6 L424.00,833.1 L424.35,834.2 L424.70,834.8 L425.05,839.3 L425.40,844.4 L425.75,829.6 L426.10,836.4 L426.45,842.7 L426.80,839.8 L427.15,841.2 L427.50,832.6 L427.85,843.2 L428.20,832.5 L428.55,840.1 L428.90,839.3 L429.25,847.5 L429.60,841.7 L429.95,843.3 L430.30,837.0 L430.65,837.6 L431.00,844.8 L431.35,839.8 L431.70,839.4 L432.05,833.9 L432.40,840.7 L432.75,842.9 L433.10,836.8 L433.45,838.1 L433.80,847.1 L434.15,841.1 L434.50,839.2 L434.85,835.7 L435.20,837.9 L435.55,839.6 L435.90,846.6 L436.25,838.2 L436.60,853.3 L436.95,837.0 L437.30,839.5 L437.65,844.7 L438.00,840.1 L438.35,837.7 L438.70,840.7 L439.05,843.3 L439.40,834.1 L439.75,840.4 L440.10,841.1 L440.45,839.9 L440.80,844.8 L441.15,839.4 L441.50,840.3 L441.85,842.1 L442.20,845.1 L442.55,841.1 L442.90,848.6 L443.25,838.4 L443.60,845.3 L443.95,838.7 L444.30,841.7 L444.65,844.0 L445.00,851.2 L445.35,846.4 L445.70,841.0 L446.05,848.2 L446.40,841.9 L446.75,839.6 L447.10,844.9 L447.45,843.4 L447.80,847.1 L448.15,840.9 L448.50,844.9 L448.85,846.0 L449.20,844.6 L449.55,843.4 L449.90,840.6 L450.25,847.4 L450.60,844.3 L450.95,845.8 L451.30,842.4 L451.65,844.0 L452.00,839.6 L452.35,844.4 L452.70,847.3 L453.05,844.6 L453.40,847.8 L453.75,845.6 L454.10,850.1 L454.45,843.7 L454.80,837.7 L455.15,846.4 L455.50,844.0 L455.85,840.7 L456.20,847.5 L456.55,846.0 L456.90,846.8 L457.25,843.6 L457.60,845.9 L457.95,846.2 L458.30,852.6 L458.65,842.5 L459.00,845.3 L459.35,846.9 L459.70,838.3 L460.05,838.9 L460.40,854.5 L460.75,838.3 L461.10,848.0 L461.45,842.1 L461.80,842.5 L462.15,837.5 L462.50,842.0 L462.85,849.0 L463.20,840.1 L463.55,848.3 L463.90,847.2 L464.25,849.6 L464.60,844.0 L464.95,851.2 L465.30,849.7 L465.65,844.9 L466.00,839.3 L466.35,852.4 L466.70,840.6 L467.05,844.3 L467.40,849.9 L467.75,850.9 L468.10,842.9 L468.45,846.2 L468.80,845.4 L469.15,851.3 L469.50,856.8 L469.85,839.0 L470.20,850.3 L470.55,834.8 L470.90,846.7 L471.25,842.1 L471.60,859.5 L471.95,847.5 L472.30,843.8 L472.65,844.9 L473.00,849.4 L473.35,847.8 L473.70,846.5 L474.05,849.9 L474.40,853.6 L474.75,844.9 L475.10,842.4 L475.45,840.8 L475.80,844.4 L476.15,851.9 L476.50,846.3 L476.85,845.0 L477.20,848.4 L477.55,842.1 L477.90,843.3 L478.25,850.1 L478.60,846.8 L478.95,846.3 L479.30,849.5 L479.65,845.9 L480.00,845.6 L480.35,846.5 L480.70,850.9 L481.05,848.8 L481.40,843.8 L481.75,847.5 L482.10,851.4 L482.45,861.3 L482.80,844.3 L483.15,850.3 L483.50,852.2 L483.85,852.4 L484.20,851.0 L484.55,855.2 L484.90,851.4 L485.25,843.7 L485.60,847.3 L485.95,851.2 L486.30,851.2 L486.65,859.3 L487.00,859.3 L487.35,845.1 L487.70,851.3 L488.05,844.6 L488.40,843.3 L488.75,853.1 L489.10,852.4 L489.45,846.0 L489.80,856.9 L490.15,846.4 L490.50,845.7 L490.85,853.1 L491.20,851.5 L491.55,850.0 L491.90,850.4 L492.25,851.7 L492.60,850.3 L492.95,850.2 L493.30,843.4 L493.65,845.7 L494.00,853.6 L494.35,848.4 L494.70,853.5 L495.05,856.3 L495.40,850.0 L495.75,852.6 L496.10,859.8 L496.45,854.4 L496.80,859.1 L497.15,857.9 L497.50,854.9 L497.85,851.5 L498.20,848.7 L498.55,847.7 L498.90,854.2 L499.25,854.2 L499.60,851.7 L499.95,855.9 L500.30,850.2 L500.65,857.1 L501.00,858.9 L501.35,852.7 L501.70,852.9 L502.05,852.6 L502.40,862.9 L502.75,846.8 L503.10,854.0 L503.45,858.3 L503.80,856.3 L504.15,852.3 L504.50,860.5 L504.85,849.5 L505.20,848.7 L505.55,856.1 L505.90,848.3 L506.25,844.7 L506.60,857.6 L506.95,857.2 L507.30,857.2 L507.65,852.5 L508.00,855.2 L508.35,850.8 L508.70,861.4 L509.05,857.7 L509.40,857.6 L509.75,847.1 L510.10,858.0 L510.45,860.7 L510.80,859.6 L511.15,858.0 L511.50,855.0 L511.85,853.7 L512.20,857.5 L512.55,856.7 L512.90,856.1 L513.25,854.1 L513.60,861.9 L513.95,850.9 L514.30,855.4 L514.65,853.2 L515.00,859.5 L515.35,861.1 L515.70,860.5 L516.05,858.6 L516.40,850.3 L516.75,863.9 L517.10,857.9 L517.45,855.5 L517.80,856.1 L518.15,854.7 L518.50,857.7 L518.85,857.3 L519.20,854.8 L519.55,850.1 L519.90,856.2 L520.25,858.2 L520.60,858.4 L520.95,852.8 L521.30,858.2 L521.65,860.5 L522.00,854.7 L522.35,862.2 L522.70,849.1 L523.05,851.8 L523.40,853.2 L523.75,847.3 L524.10,852.9 L524.45,861.5 L524.80,861.5 L525.15,857.2 L525.50,863.4 L525.85,857.8 L526.20,855.0 L526.55,857.8 L526.90,856.4 L527.25,859.8 L527.60,851.2 L527.95,860.8 L528.30,855.3 L528.65,860.3 L529.00,851.2 L529.35,855.5 L529.70,857.4 L530.05,860.6 L530.40,852.5 L530.75,863.6 L531.10,859.1 L531.45,855.3 L531.80,862.0 L532.15,857.7 L532.50,861.8 L532.85,866.3 L533.20,860.4 L533.55,855.4 L533.90,855.8 L534.25,859.7 L534.60,858.7 L534.95,854.5 L535.30,855.2 L535.65,860.4 L536.00,866.9 L536.35,848.0 L536.70,860.9 L537.05,857.4 L537.40,861.3 L537.75,861.7 L538.10,858.7 L538.45,854.7 L538.80,853.4 L539.15,851.7 L539.50,863.5 L539.85,858.2 L540.20,857.0 L540.55,858.1 L540.90,854.2 L541.25,860.5 L541.60,864.4 L541.95,863.8 L542.30,853.7 L542.65,864.8 L543.00,856.9 L543.35,852.7 L543.70,855.4 L544.05,856.4 L544.40,860.1 L544.75,856.4 L545.10,850.1 L545.45,859.5 L545.80,867.8 L546.15,858.0 L546.50,862.5 L546.85,861.1 L547.20,870.9 L547.55,853.9 L547.90,865.2 L548.25,856.4 L548.60,859.0 L548.95,860.9 L549.30,873.2 L549.65,858.6 L550.00,854.4 L550.35,866.4 L550.70,858.5 L551.05,860.8 L551.40,861.6 L551.75,862.2 L552.10,861.2 L552.45,862.9 L552.80,863.4 L553.15,865.2 L553.50,860.6 L553.85,859.4 L554.20,858.3 L554.55,864.5 L554.90,862.2 L555.25,864.5 L555.60,864.5 L555.95,868.8 L556.30,863.4 L556.65,865.5 L557.00,858.4 L557.35,863.6 L557.70,861.8 L558.05,858.5 L558.40,865.6 L558.75,858.2 L559.10,859.1 L559.45,854.2 L559.80,859.3 L560.15,862.1 L560.50,862.5 L560.85,856.9 L561.20,863.9 L561.55,867.1 L561.90,865.9 L562.25,861.1 L562.60,861.3 L562.95,859.1 L563.30,865.8 L563.65,868.8 L564.00,861.6 L564.35,857.3 L564.70,864.2 L565.05,866.1 L565.40,853.5 L565.75,864.0 L566.10,871.4 L566.45,861.0 L566.80,865.5 L567.15,865.0 L567.50,867.4 L567.85,860.0 L568.20,860.4 L568.55,865.0 L568.90,861.0 L569.25,864.4 L569.60,856.5 L569.95,866.3 L570.30,866.6 L570.65,863.7 L571.00,864.1 L571.35,869.4 L571.70,859.5 L572.05,860.1 L572.40,859.5 L572.75,861.9 L573.10,855.4 L573.45,863.6 L573.80,861.1 L574.15,858.2 L574.50,857.9 L574.85,868.1 L575.20,863.5 L575.55,862.9 L575.90,863.9 L576.25,860.0 L576.60,866.7 L576.95,866.0 L577.30,861.9 L577.65,861.1 L578.00,860.2 L578.35,859.6 L578.70,869.4 L579.05,861.0 L579.40,857.0 L579.75,861.3 L580.10,861.6 L580.45,865.7 L580.80,861.3 L581.15,866.6 L581.50,866.1 L581.85,869.3 L582.20,872.7 L582.55,875.2 L582.90,869.8 L583.25,860.7 L583.60,863.5 L583.95,865.9 L584.30,872.6 L584.65,867.6 L585.00,869.6 L585.35,864.6 L585.70,867.4 L586.05,868.0 L586.40,863.8 L586.75,868.3 L587.10,869.4 L587.45,865.0 L587.80,869.3 L588.15,871.6 L588.50,865.9 L588.85,865.7 L589.20,864.6 L589.55,863.6 L589.90,866.4 L590.25,864.4 L590.60,864.8 L590.95,863.2 L591.30,860.5 L591.65,862.7 L592.00,867.3 L592.35,861.9 L592.70,863.8 L593.05,872.1 L593.40,870.3 L593.75,863.8 L594.10,868.5 L594.45,864.0 L594.80,872.2 L595.15,866.7 L595.50,866.8 L595.85,871.5 L596.20,863.6 L596.55,871.3 L596.90,863.7 L597.25,867.5 L597.60,865.7 L597.95,866.4 L598.30,867.4 L598.65,866.6 L599.00,863.2 L599.35,870.0 L599.70,869.5 L600.05,871.6 L600.40,872.0 L600.75,862.2 L601.10,871.7 L601.45,871.7 L601.80,865.2 L602.15,870.9 L602.50,872.4 L602.85,865.3 L603.20,862.3 L603.55,866.0 L603.90,877.3 L604.25,868.2 L604.60,863.0 L604.95,866.5 L605.30,863.8 L605.65,866.0 L606.00,870.3 L606.35,858.3 L606.70,868.8 L607.05,872.6 L607.40,866.9 L607.75,866.2 L608.10,871.5 L608.45,863.1 L608.80,863.2 L609.15,862.7 L609.50,867.2 L609.85,869.1 L610.20,867.4 L610.55,869.8 L610.90,870.8 L611.25,869.6 L611.60,865.0 L611.95,867.0 L612.30,872.4 L612.65,864.2 L613.00,867.1 L613.35,866.5 L613.70,867.3 L614.05,864.1 L614.40,863.2 L614.75,877.0 L615.10,871.3 L615.45,865.4 L615.80,867.7 L616.15,870.3 L616.50,866.7 L616.85,870.1 L617.20,865.7 L617.55,866.6 L617.90,867.5 L618.25,866.2 L618.60,859.1 L618.95,867.9 L619.30,868.7 L619.65,869.5 L620.00,864.2 L620.35,869.0 L620.70,868.5 L621.05,861.4 L621.40,859.8 L621.75,869.4 L622.10,864.3 L622.45,871.2 L622.80,871.3 L623.15,865.5 L623.50,865.2 L623.85,867.6 L624.20,870.0 L624.55,863.5 L624.90,872.0 L625.25,871.1 L625.60,869.9 L625.95,865.6 L626.30,870.8 L626.65,870.6 L627.00,863.3 L627.35,875.0 L627.70,866.5 L628.05,868.9 L628.40,865.8 L628.75,869.0 L629.10,871.8 L629.45,864.9 L629.80,861.9 L630.15,866.2 L630.50,863.2 L630.85,865.1 L631.20,867.4 L631.55,867.7 L631.90,872.5 L632.25,864.3 L632.60,869.2 L632.95,866.2 L633.30,872.9 L633.65,877.0 L634.00,869.2 L634.35,874.0 L634.70,866.3 L635.05,862.5 L635.40,863.7 L635.75,862.6 L636.10,864.9 L636.45,867.4 L636.80,872.4 L637.15,870.8 L637.50,866.9 L637.85,866.9 L638.20,865.8 L638.55,868.5 L638.90,868.9 L639.25,869.4 L639.60,869.8 L639.95,868.1 L640.30,861.8 L640.65,864.7 L641.00,865.7 L641.35,874.7 L641.70,867.2 L642.05,871.1 L642.40,873.9 L642.75,870.0 L643.10,867.4 L643.45,867.8 L643.80,865.3 L644.15,870.0 L644.50,872.9 L644.85,871.0 L645.20,871.7 L645.55,871.5 L645.90,876.1 L646.25,866.8 L646.60,869.7 L646.95,871.6 L647.30,873.5 L647.65,860.6 L648.00,867.4 L648.35,868.5 L648.70,865.6 L649.05,872.3 L649.40,870.1 L649.75,868.0 L650.10,863.6 L650.45,864.8 L650.80,866.0 L651.15,871.1 L651.50,865.2 L651.85,862.3 L652.20,864.5 L652.55,867.5 L652.90,875.5 L653.25,878.4 L653.60,868.0 L653.95,873.0 L654.30,874.7 L654.65,874.3 L655.00,869.4 L655.35,865.3 L655.70,868.2 L656.05,863.4 L656.40,870.8 L656.75,872.7 L657.10,863.4 L657.45,869.8 L657.80,871.1 L658.15,874.4 L658.50,874.9 L658.85,872.9 L659.20,867.8 L659.55,868.9 L659.90,874.4 L660.25,868.1 L660.60,870.1 L660.95,875.8 L661.30,870.8 L661.65,865.6 L662.00,869.4 L662.35,872.7 L662.70,869.8 L663.05,874.5" stroke="#0000ff" stroke-width="1.8"/>
<path d="M60.00,898.1 L60.35,895.1 L60.70,895.9 L61.05,886.9 L61.40,906.8 L61.75,904.2 L62.10,897.9 L62.45,903.3 L62.80,901.4 L63.15,898.0 L63.50,905.4 L63.85,899.9 L64.20,900.2 L64.55,898.5 L64.90,904.5 L65.25,902.4 L65.60,905.7 L65.95,895.9 L66.30,904.6 L66.65,900.5 L67.00,908.6 L67.35,906.0 L67.70,907.0 L68.05,907.7 L68.40,901.7 L68.75,909.9 L69.10,915.8 L69.45,899.9 L69.80,899.9 L70.15,901.2 L70.50,911.7 L70.85,908.9 L71.20,913.3 L71.55,912.1 L71.90,910.2 L72.25,910.8 L72.60,909.1 L72.95,913.9 L73.30,905.6 L73.65,909.0 L74.00,912.1 L74.35,919.1 L74.70,908.5 L75.05,907.4 L75.40,909.9 L75.75,916.7 L76.10,912.0 L76.45,918.8 L76.80,905.7 L77.15,918.6 L77.50,918.5 L77.85,908.5 L78.20,915.3 L78.55,920.0 L78.90,915.6 L79.25,919.6 L79.60,925.6 L79.95,917.1 L80.30,915.1 L80.65,913.3 L81.00,919.4 L81.35,916.2 L81.70,916.5 L82.05,917.1 L82.40,920.4 L82.75,913.7 L83.10,912.0 L83.45,908.6 L83.80,921.5 L84.15,919.4 L84.50,925.5 L84.85,919.6 L85.20,916.8 L85.55,922.0 L85.90,920.1 L86.25,915.6 L86.60,917.3 L86.95,928.2 L87.30,922.7 L87.65,918.6 L88.00,920.6 L88.35,919.0 L88.70,925.5 L89.05,921.6 L89.40,919.2 L89.75,921.8 L90.10,918.8 L90.45,923.3 L90.80,927.2 L91.15,919.5 L91.50,928.6 L91.85,920.5 L92.20,923.8 L92.55,916.0 L92.90,922.6 L93.25,923.8 L93.60,922.0 L93.95,921.1 L94.30,921.3 L94.65,920.9 L95.00,918.1 L95.35,920.4 L95.70,926.1 L96.05,928.2 L96.40,927.3 L96.75,934.6 L97.10,926.3 L97.45,923.3 L97.80,932.5 L98.15,921.2 L98.50,929.1 L98.85,921.7 L99.20,926.9 L99.55,917.9 L99.90,929.2 L100.25,925.1 L100.60,922.0 L100.95,932.4 L101.30,928.9 L101.65,923.7 L102.00,923.2 L102.35,926.0 L102.70,925.6 L103.05,929.1 L103.40,929.4 L103.75,927.6 L104.10,924.4 L104.45,924.5 L104.80,921.4 L105.15,924.4 L105.50,926.4 L105.85,929.5 L106.20,932.0 L106.55,923.9 L106.90,929.2 L107.25,925.4 L107.60,935.2 L107.95,927.1 L108.30,929.3 L108.65,923.8 L109.00,924.3 L109.35,928.3 L109.70,926.1 L110.05,928.9 L110.40,921.5 L110.75,930.0 L111.10,924.0 L111.45,934.1 L111.80,926.3 L112.15,931.6 L112.50,921.9 L112.85,928.9 L113.20,919.2 L113.55,921.7 L113.90,932.3 L114.25,925.9 L114.60,928.1 L114.95,930.0 L115.30,929.6 L115.65,926.7 L116.00,921.7 L116.35,923.8 L116.70,926.2 L117.05,918.7 L117.40,929.8 L117.75,925.9 L118.10,925.8 L118.45,930.4 L118.80,927.0 L119.15,927.5 L119.50,922.8 L119.85,927.8 L120.20,927.9 L120.55,923.1 L120.90,930.6 L121.25,928.4 L121.60,918.8 L121.95,926.9 L122.30,921.5 L122.65,930.7 L123.00,929.4 L123.35,922.0 L123.70,922.8 L124.05,926.6 L124.40,925.2 L124.75,932.0 L125.10,929.0 L125.45,924.9 L125.80,928.2 L126.15,918.1 L126.50,927.1 L126.85,929.3 L127.20,925.2 L127.55,923.1 L127.90,928.0 L128.25,933.4 L128.60,926.5 L128.95,921.3 L129.30,931.3 L129.65,918.3 L130.00,927.5 L130.35,923.3 L130.70,929.1 L131.05,922.1 L131.40,930.6 L131.75,926.6 L132.10,918.6 L132.45,917.6 L132.80,924.0 L133.15,926.5 L133.50,925.7 L133.85,925.4 L134.20,924.2 L134.55,927.9 L134.90,926.4 L135.25,925.9 L135.60,920.9 L135.95,929.3 L136.30,929.9 L136.65,919.3 L137.00,933.4 L137.35,927.0 L137.70,922.2 L138.05,916.5 L138.40,931.2 L138.75,926.0 L139.10,921.3 L139.45,916.5 L139.80,927.9 L140.15,921.0 L140.50,921.3 L140.85,934.4 L141.20,931.4 L141.55,926.7 L141.90,921.0 L142.25,925.2 L142.60,913.5 L142.95,922.9 L143.30,919.3 L143.65,917.1 L144.00,915.7 L144.35,923.9 L144.70,921.8 L145.05,921.7 L145.40,924.0 L145.75,916.7 L146.10,914.6 L146.45,911.9 L146.80,917.2 L147.15,921.2 L147.50,917.0 L147.85,922.2 L148.20,911.7 L148.55,914.2 L148.90,912.4 L149.25,909.9 L149.60,922.4 L149.95,917.7 L150.30,910.4 L150.65,909.9 L151.00,912.4 L151.35,906.0 L151.70,913.5 L152.05,905.6 L152.40,909.1 L152.75,905.8 L153.10,907.7 L153.45,903.5 L153.80,902.0 L154.15,904.1 L154.50,904.9 L154.85,906.1 L155.20,907.2 L155.55,913.1 L155.90,909.5 L156.25,904.4 L156.60,908.2 L156.95,901.5 L157.30,910.5 L157.65,906.0 L158.00,897.1 L158.35,906.0 L158.70,905.8 L159.05,889.5 L159.40,897.7 L159.75,898.4 L160.10,891.2 L160.45,894.5 L160.80,894.4 L161.15,900.5 L161.50,898.9 L161.85,909.1 L162.20,894.5 L162.55,901.1 L162.90,895.5 L163.25,895.8 L163.60,888.4 L163.95,884.3 L164.30,889.0 L164.65,895.7 L165.00,899.0 L165.35,893.8 L165.70,892.6 L166.05,885.6 L166.40,896.5 L166.75,895.0 L167.10,885.3 L167.45,887.0 L167.80,881.7 L168.15,893.2 L168.50,887.4 L168.85,884.3 L169.20,886.2 L169.55,885.8 L169.90,881.0 L170.25,876.2 L170.60,875.4 L170.95,872.5 L171.30,883.0 L171.65,891.3 L172.00,874.1 L172.35,879.6 L172.70,880.4 L173.05,872.7 L173.40,878.2 L173.75,870.9 L174.10,882.2 L174.45,872.3 L174.80,875.3 L175.15,877.8 L175.50,871.4 L175.85,863.7 L176.20,869.7 L176.55,875.9 L176.90,870.8 L177.25,871.8 L177.60,864.2 L177.95,870.1 L178.30,872.6 L178.65,868.2 L179.00,877.7 L179.35,865.6 L179.70,860.5 L180.05,856.7 L180.40,871.1 L180.75,863.8 L181.10,869.1 L181.45,865.4 L181.80,871.2 L182.15,868.6 L182.50,858.8 L182.85,861.8 L183.20,865.7 L183.55,852.1 L183.90,866.6 L184.25,864.9 L184.60,863.2 L184.95,856.2 L185.30,858.7 L185.65,850.4 L186.00,856.8 L186.35,852.8 L186.70,856.4 L187.05,852.8 L187.40,856.9 L187.75,861.8 L188.10,847.3 L188.45,859.8 L188.80,842.8 L189.15,841.5 L189.50,853.0 L189.85,853.4 L190.20,855.6 L190.55,843.3 L190.90,852.2 L191.25,853.0 L191.60,859.2 L191.95,851.1 L192.30,854.4 L192.65,845.4 L193.00,849.7 L193.35,847.9 L193.70,854.4 L194.05,844.4 L194.40,845.2 L194.75,853.4 L195.10,860.5 L195.45,852.4 L195.80,856.5 L196.15,848.2 L196.50,856.6 L196.85,853.4 L197.20,860.4 L197.55,852.3 L197.90,844.9 L198.25,847.1 L198.60,844.7 L198.95,843.2 L199.30,857.9 L199.65,855.3 L200.00,843.4 L200.35,861.0 L200.70,852.1 L201.05,845.2 L201.40,848.5 L201.75,850.4 L202.10,846.3 L202.45,839.6 L202.80,851.1 L203.15,852.6 L203.50,836.0 L203.85,854.1 L204.20,854.4 L204.55,848.0 L204.90,851.2 L205.25,848.8 L205.60,845.4 L205.95,848.1 L206.30,857.9 L206.65,836.8 L207.00,851.1 L207.35,850.6 L207.70,845.3 L208.05,846.7 L208.40,840.9 L208.75,844.0 L209.10,848.9 L209.45,850.6 L209.80,843.3 L210.15,866.4 L210.50,844.9 L210.85,848.9 L211.20,846.6 L211.55,845.5 L211.90,855.3 L212.25,844.7 L212.60,855.3 L212.95,854.0 L213.30,840.9 L213.65,853.0 L214.00,846.1 L214.35,862.7 L214.70,844.0 L215.05,840.5 L215.40,834.4 L215.75,837.9 L216.10,841.9 L216.45,839.1 L216.80,837.5 L217.15,840.4 L217.50,843.1 L217.85,852.8 L218.20,833.7 L218.55,840.3 L218.90,837.7 L219.25,834.0 L219.60,835.3 L219.95,837.2 L220.30,846.7 L220.65,841.0 L221.00,838.7 L221.35,845.4 L221.70,843.1 L222.05,839.9 L222.40,843.3 L222.75,831.6 L223.10,844.3 L223.45,843.1 L223.80,837.5 L224.15,832.4 L224.50,848.9 L224.85,840.1 L225.20,858.0 L225.55,835.2 L225.90,844.2 L226.25,836.2 L226.60,840.3 L226.95,843.6 L227.30,833.5 L227.65,837.6 L228.00,839.0 L228.35,838.6 L228.70,841.4 L229.05,843.9 L229.40,842.5 L229.75,838.9 L230.10,834.9 L230.45,830.0 L230.80,832.2 L231.15,833.3 L231.50,840.7 L231.85,834.0 L232.20,828.4 L232.55,839.8 L232.90,830.8 L233.25,830.9 L233.60,834.1 L233.95,838.2 L234.30,820.2 L234.65,828.0 L235.00,835.9 L235.35,832.4 L235.70,829.1 L236.05,831.0 L236.40,839.9 L236.75,831.1 L237.10,838.0 L237.45,838.0 L237.80,829.5 L238.15,834.4 L238.50,827.9 L238.85,826.1 L239.20,822.0 L239.55,833.9 L239.90,824.9 L240.25,823.1 L240.60,818.6 L240.95,836.7 L241.30,829.0 L241.65,822.5 L242.00,818.0 L242.35,811.7 L242.70,822.9 L243.05,822.0 L243.40,810.0 L243.75,826.2 L244.10,822.8 L244.45,810.4 L244.80,812.3 L245.15,812.3 L245.50,815.4 L245.85,812.3 L246.20,801.2 L246.55,821.4 L246.90,812.5 L247.25,817.9 L247.60,816.9 L247.95,805.8 L248.30,808.6 L248.65,810.3 L249.00,809.5 L249.35,802.0 L249.70,797.7 L250.05,801.3 L250.40,794.4 L250.75,795.2 L251.10,783.8 L251.45,798.2 L251.80,789.6 L252.15,792.5 L252.50,795.7 L252.85,797.8 L253.20,808.7 L253.55,796.1 L253.90,783.8 L254.25,794.5 L254.60,788.8 L254.95,795.5 L255.30,787.1 L255.65,786.7 L256.00,788.4 L256.35,788.2 L256.70,780.5 L257.05,787.5 L257.40,796.6 L257.75,806.8 L258.10,797.7 L258.45,798.7 L258.80,806.9 L259.15,808.1 L259.50,817.0 L259.85,811.5 L260.20,808.9 L260.55,819.8 L260.90,822.7 L261.25,810.9 L261.60,817.0 L261.95,806.6 L262.30,817.3 L262.65,815.8 L263.00,822.1 L263.35,822.3 L263.70,826.2 L264.05,828.5 L264.40,834.2 L264.75,834.4 L265.10,831.2 L265.45,828.5 L265.80,845.8 L266.15,848.6 L266.50,839.0 L266.85,846.8 L267.20,836.1 L267.55,837.7 L267.90,847.1 L268.25,858.9 L268.60,846.1 L268.95,849.1 L269.30,864.7 L269.65,846.6 L270.00,862.6 L270.35,863.1 L270.70,860.6 L271.05,863.9 L271.40,878.3 L271.75,858.7 L272.10,864.1 L272.45,865.4 L272.80,864.0 L273.15,861.4 L273.50,878.0 L273.85,871.7 L274.20,864.8 L274.55,868.7 L274.90,875.4 L275.25,876.3 L275.60,867.7 L275.95,875.6 L276.30,878.4 L276.65,880.0 L277.00,880.8 L277.35,870.3 L277.70,889.5 L278.05,881.7 L278.40,890.1 L278.75,895.7 L279.10,880.8 L279.45,875.8 L279.80,886.6 L280.15,881.7 L280.50,880.7 L280.85,878.2 L281.20,892.0 L281.55,881.8 L281.90,877.4 L282.25,882.4 L282.60,879.3 L282.95,886.1 L283.30,889.5 L283.65,880.8 L284.00,889.3 L284.35,883.5 L284.70,890.5 L285.05,893.5 L285.40,885.9 L285.75,884.9 L286.10,889.3 L286.45,895.0 L286.80,889.0 L287.15,889.9 L287.50,889.4 L287.85,891.3 L288.20,893.0 L288.55,886.8 L288.90,888.1 L289.25,890.8 L289.60,887.7 L289.95,891.7 L290.30,893.9 L290.65,891.4 L291.00,888.8 L291.35,888.2 L291.70,900.5 L292.05,896.5 L292.40,887.3 L292.75,888.8 L293.10,901.9 L293.45,900.4 L293.80,894.1 L294.15,899.1 L294.50,886.9 L294.85,894.1 L295.20,897.8 L295.55,891.1 L295.90,891.1 L296.25,898.7 L296.60,900.5 L296.95,892.7 L297.30,897.0 L297.65,903.3 L298.00,894.3 L298.35,890.0 L298.70,896.1 L299.05,894.7 L299.40,902.7 L299.75,897.6 L300.10,893.2 L300.45,908.2 L300.80,894.9 L301.15,899.6 L301.50,900.7 L301.85,901.3 L302.20,898.6 L302.55,900.7 L302.90,897.8 L303.25,891.7 L303.60,897.4 L303.95,897.6 L304.30,897.8 L304.65,899.4 L305.00,896.1 L305.35,905.1 L305.70,906.4 L306.05,889.3 L306.40,899.5 L306.75,896.4 L307.10,887.9 L307.45,901.8 L307.80,897.2 L308.15,898.5 L308.50,897.4 L308.85,905.4 L309.20,906.3 L309.55,902.0 L309.90,904.1 L310.25,900.5 L310.60,901.8 L310.95,898.0 L311.30,901.6 L311.65,898.4 L312.00,903.4 L312.35,905.6 L312.70,903.4 L313.05,907.5 L313.40,914.3 L313.75,892.9 L314.10,902.5 L314.45,900.0 L314.80,900.7 L315.15,896.7 L315.50,903.2 L315.85,901.9 L316.20,900.4 L316.55,902.2 L316.90,900.8 L317.25,893.1 L317.60,908.5 L317.95,902.4 L318.30,899.7 L318.65,905.4 L319.00,901.2 L319.35,894.6 L319.70,908.3 L320.05,897.0 L320.40,903.6 L320.75,905.3 L321.10,910.8 L321.45,910.2 L321.80,905.8 L322.15,901.8 L322.50,903.5 L322.85,910.2 L323.20,910.2 L323.55,908.1 L323.90,902.9 L324.25,910.4 L324.60,901.0 L324.95,904.4 L325.30,905.0 L325.65,909.0 L326.00,907.7 L326.35,911.0 L326.70,912.5 L327.05,909.2 L327.40,897.0 L327.75,899.9 L328.10,908.2 L328.45,907.4 L328.80,917.2 L329.15,907.9 L329.50,907.5 L329.85,912.4 L330.20,913.1 L330.55,907.6 L330.90,910.9 L331.25,909.1 L331.60,905.1 L331.95,914.6 L332.30,903.4 L332.65,913.6 L333.00,912.7 L333.35,913.3 L333.70,914.0 L334.05,912.7 L334.40,901.3 L334.75,906.3 L335.10,908.2 L335.45,914.9 L335.80,906.3 L336.15,908.3 L336.50,909.9 L336.85,917.2 L337.20,905.6 L337.55,906.2 L337.90,914.8 L338.25,903.3 L338.60,913.8 L338.95,910.7 L339.30,906.1 L339.65,911.2 L340.00,908.9 L340.35,914.0 L340.70,915.0 L341.05,919.9 L341.40,913.7 L341.75,914.4 L342.10,911.7 L342.45,914.2 L342.80,918.9 L343.15,906.6 L343.50,917.6 L343.85,912.7 L344.20,915.5 L344.55,916.7 L344.90,919.0 L345.25,916.7 L345.60,914.2 L345.95,917.3 L346.30,916.2 L346.65,915.5 L347.00,917.4 L347.35,920.3 L347.70,917.4 L348.05,917.7 L348.40,915.4 L348.75,916.9 L349.10,909.9 L349.45,920.7 L349.80,914.0 L350.15,923.4 L350.50,930.5 L350.85,916.8 L351.20,924.0 L351.55,920.4 L351.90,916.7 L352.25,915.7 L352.60,921.5 L352.95,925.1 L353.30,921.0 L353.65,913.6 L354.00,915.7 L354.35,919.1 L354.70,925.7 L355.05,921.5 L355.40,921.8 L355.75,925.5 L356.10,919.9 L356.45,920.5 L356.80,920.3 L357.15,914.0 L357.50,923.2 L357.85,923.1 L358.20,925.5 L358.55,917.0 L358.90,918.6 L359.25,925.7 L359.60,923.4 L359.95,927.8 L360.30,919.0 L360.65,923.3 L361.00,920.0 L361.35,924.1 L361.70,921.0 L362.05,925.2 L362.40,927.5 L362.75,926.1 L363.10,919.8 L363.45,927.4 L363.80,925.6 L364.15,919.8 L364.50,920.6 L364.85,924.2 L365.20,926.6 L365.55,922.7 L365.90,918.3 L366.25,925.9 L366.60,925.6 L366.95,934.6 L367.30,920.1 L367.65,935.2 L368.00,932.2 L368.35,926.7 L368.70,932.1 L369.05,926.1 L369.40,929.7 L369.75,923.1 L370.10,926.4 L370.45,922.2 L370.80,920.2 L371.15,925.3 L371.50,923.9 L371.85,928.8 L372.20,931.6 L372.55,926.2 L372.90,927.1 L373.25,927.7 L373.60,920.6 L373.95,928.3 L374.30,927.4 L374.65,927.3 L375.00,923.3 L375.35,920.0 L375.70,926.8 L376.05,929.1 L376.40,933.1 L376.75,932.4 L377.10,933.8 L377.45,929.7 L377.80,932.8 L378.15,927.7 L378.50,931.0 L378.85,932.3 L379.20,939.1 L379.55,929.9 L379.90,924.2 L380.25,934.4 L380.60,926.2 L380.95,929.1 L381.30,928.4 L381.65,926.1 L382.00,934.8 L382.35,932.1 L382.70,927.6 L383.05,930.3 L383.40,928.5 L383.75,932.6 L384.10,929.0 L384.45,927.6 L384.80,928.2 L385.15,929.1 L385.50,931.9 L385.85,927.5 L386.20,930.8 L386.55,932.9 L386.90,940.1 L387.25,934.6 L387.60,920.4 L387.95,929.8 L388.30,930.3 L388.65,933.1 L389.00,937.9 L389.35,934.9 L389.70,923.6 L390.05,929.8 L390.40,932.9 L390.75,934.1 L391.10,937.8 L391.45,928.8 L391.80,937.0 L392.15,926.9 L392.50,933.4 L392.85,934.7 L393.20,941.9 L393.55,930.9 L393.90,927.4 L394.25,936.3 L394.60,931.4 L394.95,942.6 L395.30,931.5 L395.65,930.9 L396.00,938.8 L396.35,934.6 L396.70,938.1 L397.05,929.2 L397.40,940.6 L397.75,932.5 L398.10,937.7 L398.45,931.1 L398.80,929.2 L399.15,934.0 L399.50,935.7 L399.85,940.9 L400.20,936.5 L400.55,937.9 L400.90,937.8 L401.25,946.8 L401.60,932.6 L401.95,940.2 L402.30,935.2 L402.65,936.7 L403.00,933.9 L403.35,940.2 L403.70,931.5 L404.05,931.3 L404.40,935.5 L404.75,932.1 L405.10,938.9 L405.45,939.8 L405.80,933.8 L406.15,935.8 L406.50,934.3 L406.85,936.6 L407.20,936.9 L407.55,943.7 L407.90,937.0 L408.25,933.8 L408.60,933.9 L408.95,941.6 L409.30,931.4 L409.65,935.8 L410.00,936.2 L410.35,928.8 L410.70,936.0 L411.05,941.4 L411.40,938.7 L411.75,934.7 L412.10,940.5 L412.45,940.0 L412.80,945.4 L413.15,935.6 L413.50,937.0 L413.85,938.6 L414.20,938.0 L414.55,938.9 L414.90,938.3 L415.25,936.3 L415.60,933.1 L415.95,936.9 L416.30,933.9 L416.65,935.2 L417.00,937.0 L417.35,940.8 L417.70,942.1 L418.05,935.4 L418.40,940.2 L418.75,942.0 L419.10,939.0 L419.45,933.3 L419.80,931.5 L420.15,942.0 L420.50,942.5 L420.85,940.3 L421.20,935.6 L421.55,944.5 L421.90,943.7 L422.25,939.3 L422.60,938.7 L422.95,932.5 L423.30,942.2 L423.65,933.8 L424.00,942.0 L424.35,942.2 L424.70,940.0 L425.05,945.3 L425.40,938.6 L425.75,941.9 L426.10,947.8 L426.45,940.7 L426.80,938.4 L427.15,944.3 L427.50,941.4 L427.85,939.3 L428.20,939.4 L428.55,940.5 L428.90,948.1 L429.25,940.5 L429.60,939.3 L429.95,936.4 L430.30,935.9 L430.65,933.6 L431.00,941.1 L431.35,940.4 L431.70,936.8 L432.05,935.2 L432.40,939.3 L432.75,938.6 L433.10,935.8 L433.45,943.7 L433.80,941.1 L434.15,940.4 L434.50,943.4 L434.85,938.4 L435.20,945.5 L435.55,937.2 L435.90,942.6 L436.25,943.1 L436.60,939.9 L436.95,942.1 L437.30,936.4 L437.65,935.7 L438.00,940.3 L438.35,938.5 L438.70,943.1 L439.05,941.2 L439.40,943.3 L439.75,942.3 L440.10,941.9 L440.45,941.6 L440.80,937.0 L441.15,939.7 L441.50,948.5 L441.85,935.2 L442.20,940.8 L442.55,944.9 L442.90,942.9 L443.25,946.4 L443.60,943.5 L443.95,937.2 L444.30,940.5 L444.65,936.7 L445.00,945.1 L445.35,946.7 L445.70,940.2 L446.05,943.7 L446.40,940.4 L446.75,936.8 L447.10,940.3 L447.45,936.4 L447.80,939.9 L448.15,942.7 L448.50,944.5 L448.85,946.5 L449.20,940.9 L449.55,942.9 L449.90,943.6 L450.25,944.1 L450.60,932.3 L450.95,939.5 L451.30,945.0 L451.65,938.4 L452.00,943.2 L452.35,945.2 L452.70,935.8 L453.05,941.7 L453.40,943.3 L453.75,942.5 L454.10,937.2 L454.45,943.7 L454.80,940.6 L455.15,945.4 L455.50,944.1 L455.85,940.8 L456.20,943.3 L456.55,940.4 L456.90,940.4 L457.25,937.4 L457.60,942.1 L457.95,945.8 L458.30,943.5 L458.65,943.0 L459.00,941.0 L459.35,941.4 L459.70,945.9 L460.05,938.2 L460.40,950.5 L460.75,943.3 L461.10,951.0 L461.45,947.7 L461.80,942.2 L462.15,946.3 L462.50,944.7 L462.85,945.5 L463.20,946.7 L463.55,942.1 L463.90,941.9 L464.25,942.7 L464.60,937.1 L464.95,943.4 L465.30,945.1 L465.65,945.2 L466.00,945.1 L466.35,943.2 L466.70,947.3 L467.05,937.7 L467.40,943.4 L467.75,943.7 L468.10,947.9 L468.45,947.2 L468.80,947.7 L469.15,942.7 L469.50,948.3 L469.85,941.7 L470.20,945.4 L470.55,938.1 L470.90,951.1 L471.25,950.8 L471.60,943.4 L471.95,942.7 L472.30,938.5 L472.65,940.5 L473.00,946.1 L473.35,945.3 L473.70,940.9 L474.05,944.3 L474.40,943.8 L474.75,947.7 L475.10,948.5 L475.45,945.5 L475.80,946.7 L476.15,946.4 L476.50,939.4 L476.85,947.1 L477.20,946.3 L477.55,949.1 L477.90,940.5 L478.25,949.2 L478.60,944.6 L478.95,947.6 L479.30,950.8 L479.65,941.9 L480.00,937.0 L480.35,950.2 L480.70,943.1 L481.05,943.8 L481.40,949.0 L481.75,946.4 L482.10,949.7 L482.45,943.7 L482.80,947.1 L483.15,950.5 L483.50,954.5 L483.85,946.9 L484.20,952.2 L484.55,951.1 L484.90,947.7 L485.25,948.9 L485.60,944.3 L485.95,945.4 L486.30,948.4 L486.65,947.4 L487.00,951.9 L487.35,943.3 L487.70,946.7 L488.05,945.6 L488.40,947.2 L488.75,951.7 L489.10,943.8 L489.45,950.7 L489.80,945.9 L490.15,946.9 L490.50,951.3 L490.85,947.1 L491.20,950.3 L491.55,948.5 L491.90,947.5 L492.25,947.0 L492.60,942.5 L492.95,945.8 L493.30,948.8 L493.65,949.0 L494.00,943.4 L494.35,951.7 L494.70,950.3 L495.05,944.2 L495.40,945.1 L495.75,950.2 L496.10,942.8 L496.45,946.2 L496.80,948.5 L497.15,948.3 L497.50,948.5 L497.85,950.1 L498.20,946.2 L498.55,947.2 L498.90,955.7 L499.25,944.3 L499.60,947.5 L499.95,949.4 L500.30,946.9 L500.65,953.1 L501.00,949.3 L501.35,951.6 L501.70,940.6 L502.05,953.1 L502.40,953.0 L502.75,946.8 L503.10,953.6 L503.45,950.2 L503.80,952.5 L504.15,955.4 L504.50,949.8 L504.85,946.2 L505.20,949.5 L505.55,945.4 L505.90,947.0 L506.25,947.2 L506.60,947.4 L506.95,953.6 L507.30,952.5 L507.65,946.9 L508.00,953.6 L508.35,944.4 L508.70,947.8 L509.05,949.5 L509.40,953.9 L509.75,952.4 L510.10,951.6 L510.45,954.4 L510.80,952.5 L511.15,954.7 L511.50,953.6 L511.85,944.8 L512.20,949.0 L512.55,953.1 L512.90,951.3 L513.25,953.4 L513.60,952.8 L513.95,952.2 L514.30,953.2 L514.65,948.3 L515.00,954.2 L515.35,947.4 L515.70,950.3 L516.05,946.1 L516.40,952.4 L516.75,945.7 L517.10,955.4 L517.45,946.5 L517.80,951.8 L518.15,950.5 L518.50,948.2 L518.85,955.1 L519.20,949.7 L519.55,955.9 L519.90,947.9 L520.25,948.7 L520.60,944.8 L520.95,953.2 L521.30,954.4 L521.65,952.2 L522.00,951.0 L522.35,953.7 L522.70,959.2 L523.05,954.1 L523.40,945.8 L523.75,950.8 L524.10,943.4 L524.45,957.0 L524.80,955.7 L525.15,956.7 L525.50,951.8 L525.85,950.2 L526.20,947.6 L526.55,953.9 L526.90,949.8 L527.25,953.8 L527.60,950.3 L527.95,951.4 L528.30,955.3 L528.65,957.9 L529.00,953.0 L529.35,952.6 L529.70,949.1 L530.05,948.7 L530.40,949.3 L530.75,955.6 L531.10,953.6 L531.45,951.3 L531.80,954.3 L532.15,951.7 L532.50,949.1 L532.85,951.9 L533.20,944.9 L533.55,959.6 L533.90,954.1 L534.25,952.1 L534.60,959.7 L534.95,952.2 L535.30,955.2 L535.65,953.0 L536.00,954.7 L536.35,952.4 L536.70,955.2 L537.05,958.3 L537.40,949.7 L537.75,946.7 L538.10,958.2 L538.45,954.4 L538.80,956.7 L539.15,953.1 L539.50,956.0 L539.85,959.9 L540.20,950.4 L540.55,956.3 L540.90,952.2 L541.25,949.1 L541.60,953.3 L541.95,956.1 L542.30,950.0 L542.65,950.3 L543.00,958.3 L543.35,954.5 L543.70,955.8 L544.05,950.9 L544.40,952.4 L544.75,955.0 L545.10,955.2 L545.45,955.1 L545.80,959.7 L546.15,955.2 L546.50,949.8 L546.85,952.0 L547.20,954.6 L547.55,958.9 L547.90,952.7 L548.25,953.6 L548.60,954.8 L548.95,952.7 L549.30,952.4 L549.65,954.3 L550.00,958.2 L550.35,956.6 L550.70,954.2 L551.05,956.4 L551.40,951.1 L551.75,958.4 L552.10,957.6 L552.45,956.2 L552.80,950.2 L553.15,961.8 L553.50,946.2 L553.85,952.3 L554.20,952.6 L554.55,957.7 L554.90,950.8 L555.25,956.4 L555.60,955.2 L555.95,954.8 L556.30,958.4 L556.65,960.3 L557.00,957.1 L557.35,955.0 L557.70,948.7 L558.05,960.6 L558.40,955.0 L558.75,953.7 L559.10,956.6 L559.45,960.7 L559.80,952.7 L560.15,952.5 L560.50,963.3 L560.85,958.2 L561.20,957.3 L561.55,959.5 L561.90,949.5 L562.25,956.1 L562.60,955.9 L562.95,963.6 L563.30,954.7 L563.65,954.8 L564.00,952.2 L564.35,954.0 L564.70,955.9 L565.05,957.4 L565.40,956.0 L565.75,963.0 L566.10,958.3 L566.45,958.8 L566.80,961.1 L567.15,958.8 L567.50,955.2 L567.85,952.0 L568.20,958.0 L568.55,954.3 L568.90,961.1 L569.25,954.6 L569.60,950.0 L569.95,957.2 L570.30,960.4 L570.65,956.5 L571.00,957.7 L571.35,957.7 L571.70,962.6 L572.05,958.2 L572.40,957.1 L572.75,955.4 L573.10,952.2 L573.45,961.7 L573.80,961.0 L574.15,954.4 L574.50,959.3 L574.85,958.5 L575.20,956.3 L575.55,956.5 L575.90,959.9 L576.25,953.8 L576.60,956.0 L576.95,957.4 L577.30,957.6 L577.65,957.0 L578.00,958.4 L578.35,959.4 L578.70,955.0 L579.05,958.1 L579.40,956.2 L579.75,962.5 L580.10,953.5 L580.45,957.1 L580.80,960.1 L581.15,957.0 L581.50,956.9 L581.85,956.3 L582.20,959.0 L582.55,954.4 L582.90,957.8 L583.25,957.7 L583.60,953.5 L583.95,959.0 L584.30,956.7 L584.65,959.1 L585.00,960.9 L585.35,959.3 L585.70,954.6 L586.05,959.3 L586.40,959.0 L586.75,955.9 L587.10,963.5 L587.45,958.4 L587.80,963.2 L588.15,957.9 L588.50,958.5 L588.85,955.0 L589.20,961.4 L589.55,957.9 L589.90,960.5 L590.25,959.9 L590.60,960.3 L590.95,959.6 L591.30,958.5 L591.65,958.7 L592.00,956.6 L592.35,952.2 L592.70,960.3 L593.05,965.2 L593.40,962.2 L593.75,966.1 L594.10,960.4 L594.45,955.9 L594.80,955.9 L595.15,961.3 L595.50,960.1 L595.85,958.5 L596.20,961.4 L596.55,956.4 L596.90,960.7 L597.25,958.3 L597.60,959.7 L597.95,962.9 L598.30,958.8 L598.65,963.5 L599.00,967.1 L599.35,957.0 L599.70,964.1 L600.05,955.5 L600.40,959.1 L600.75,961.7 L601.10,952.4 L601.45,962.6 L601.80,963.0 L602.15,959.1 L602.50,960.3 L602.85,960.2 L603.20,958.9 L603.55,962.9 L603.90,958.4 L604.25,959.5 L604.60,960.8 L604.95,962.3 L605.30,963.1 L605.65,955.2 L606.00,953.5 L606.35,962.1 L606.70,959.6 L607.05,956.5 L607.40,960.7 L607.75,961.8 L608.10,961.0 L608.45,964.9 L608.80,956.7 L609.15,960.0 L609.50,965.8 L609.85,962.0 L610.20,956.5 L610.55,960.6 L610.90,963.6 L611.25,966.4 L611.60,962.1 L611.95,963.6 L612.30,956.7 L612.65,959.3 L613.00,963.8 L613.35,957.2 L613.70,960.0 L614.05,954.4 L614.40,964.7 L614.75,959.8 L615.10,962.0 L615.45,955.6 L615.80,956.2 L616.15,965.8 L616.50,959.3 L616.85,958.7 L617.20,961.9 L617.55,962.1 L617.90,954.4 L618.25,957.4 L618.60,960.6 L618.95,960.5 L619.30,965.4 L619.65,959.2 L620.00,959.6 L620.35,961.2 L620.70,958.4 L621.05,957.9 L621.40,958.8 L621.75,960.5 L622.10,960.0 L622.45,959.0 L622.80,959.7 L623.15,960.3 L623.50,961.5 L623.85,961.6 L624.20,956.6 L624.55,963.5 L624.90,955.6 L625.25,962.2 L625.60,958.3 L625.95,962.2 L626.30,958.4 L626.65,954.7 L627.00,962.3 L627.35,961.3 L627.70,953.7 L628.05,961.6 L628.40,959.0 L628.75,960.8 L629.10,957.3 L629.45,962.8 L629.80,962.3 L630.15,962.7 L630.50,958.5 L630.85,966.0 L631.20,966.5 L631.55,960.2 L631.90,959.2 L632.25,959.2 L632.60,962.5 L632.95,963.6 L633.30,958.2 L633.65,954.3 L634.00,961.8 L634.35,960.3 L634.70,961.0 L635.05,962.0 L635.40,957.1 L635.75,960.6 L636.10,959.5 L636.45,961.6 L636.80,964.1 L637.15,960.4 L637.50,957.8 L637.85,964.2 L638.20,962.6 L638.55,959.8 L638.90,954.9 L639.25,957.7 L639.60,960.8 L639.95,962.1 L640.30,958.8 L640.65,961.7 L641.00,958.5 L641.35,959.1 L641.70,962.0 L642.05,959.6 L642.40,960.9 L642.75,963.1 L643.10,963.9 L643.45,958.7 L643.80,959.7 L644.15,956.5 L644.50,956.5 L644.85,961.4 L645.20,958.9 L645.55,954.9 L645.90,962.1 L646.25,958.0 L646.60,955.2 L646.95,961.8 L647.30,961.8 L647.65,960.4 L648.00,954.6 L648.35,962.3 L648.70,958.8 L649.05,956.3 L649.40,954.0 L649.75,964.6 L650.10,961.1 L650.45,961.0 L650.80,962.5 L651.15,963.7 L651.50,956.3 L651.85,962.8 L652.20,963.7 L652.55,962.3 L652.90,965.4 L653.25,966.5 L653.60,958.4 L653.95,959.5 L654.30,963.5 L654.65,961.4 L655.00,961.5 L655.35,963.7 L655.70,963.1 L656.05,959.5 L656.40,961.3 L656.75,958.8 L657.10,960.3 L657.45,957.6 L657.80,955.0 L658.15,959.5 L658.50,956.7 L658.85,963.7 L659.20,965.7 L659.55,961.1 L659.90,962.4 L660.25,959.1 L660.60,958.3 L660.95,960.2 L661.30,960.2 L661.65,962.0 L662.00,961.4 L662.35,966.1 L662.70,960.5 L663.05,956.2 L663.40,961.5 L663.75,959.2 L664.10,961.8 L664.45,962.5" stroke="#e84545" stroke-width="1.8"/>
<path d="M60.50,971.3 L60.85,948.5 L61.20,963.5 L61.55,958.9 L61.90,959.7 L62.25,961.1 L62.60,952.4 L62.95,961.5 L63.30,958.6 L63.65,979.5 L64.00,964.4 L64.35,961.8 L64.70,962.4 L65.05,956.4 L65.40,959.1 L65.75,962.6 L66.10,967.1 L66.45,963.8 L66.80,969.9 L67.15,964.5 L67.50,965.8 L67.85,973.4 L68.20,968.8 L68.55,963.9 L68.90,965.8 L69.25,969.6 L69.60,976.6 L69.95,966.4 L70.30,966.8 L70.65,973.2 L71.00,964.5 L71.35,967.7 L71.70,973.6 L72.05,972.5 L72.40,970.5 L72.75,973.6 L73.10,957.4 L73.45,976.0 L73.80,967.0 L74.15,964.0 L74.50,973.5 L74.85,975.8 L75.20,970.8 L75.55,968.2 L75.90,973.7 L76.25,978.4 L76.60,980.8 L76.95,978.1 L77.30,975.9 L77.65,975.4 L78.00,974.8 L78.35,971.8 L78.70,979.1 L79.05,979.4 L79.40,976.1 L79.75,973.9 L80.10,978.8 L80.45,966.8 L80.80,981.6 L81.15,981.1 L81.50,971.8 L81.85,979.8 L82.20,975.6 L82.55,983.7 L82.90,971.5 L83.25,976.9 L83.60,984.5 L83.95,986.8 L84.30,972.4 L84.65,980.1 L85.00,984.1 L85.35,980.3 L85.70,990.3 L86.05,978.3 L86.40,985.4 L86.75,979.5 L87.10,990.6 L87.45,984.6 L87.80,983.3 L88.15,977.7 L88.50,992.8 L88.85,989.0 L89.20,989.2 L89.55,991.2 L89.90,988.0 L90.25,984.0 L90.60,983.6 L90.95,986.9 L91.30,993.4 L91.65,981.5 L92.00,985.5 L92.35,986.9 L92.70,989.5 L93.05,991.3 L93.40,983.8 L93.75,982.0 L94.10,989.6 L94.45,995.1 L94.80,993.4 L95.15,991.3 L95.50,989.3 L95.85,992.2 L96.20,990.2 L96.55,994.8 L96.90,988.2 L97.25,992.3 L97.60,991.4 L97.95,994.3 L98.30,993.1 L98.65,1002.9 L99.00,998.6 L99.35,998.8 L99.70,984.1 L100.05,991.3 L100.40,990.3 L100.75,995.2 L101.10,983.6 L101.45,998.1 L101.80,997.8 L102.15,988.1 L102.50,989.6 L102.85,992.6 L103.20,994.1 L103.55,996.7 L103.90,1002.6 L104.25,993.4 L104.60,1002.0 L104.95,995.1 L105.30,1001.9 L105.65,997.8 L106.00,1000.5 L106.35,990.6 L106.70,994.3 L107.05,991.9 L107.40,1001.6 L107.75,998.2 L108.10,994.4 L108.45,993.9 L108.80,997.9 L109.15,993.1 L109.50,992.3 L109.85,998.2 L110.20,1006.4 L110.55,995.4 L110.90,994.2 L111.25,991.7 L111.60,991.0 L111.95,998.6 L112.30,1000.0 L112.65,996.5 L113.00,997.9 L113.35,997.0 L113.70,997.1 L114.05,990.3 L114.40,994.6 L114.75,997.0 L115.10,993.3 L115.45,994.6 L115.80,993.2 L116.15,995.1 L116.50,1000.0 L116.85,994.8 L117.20,995.9 L117.55,999.8 L117.90,999.1 L118.25,1003.4 L118.60,988.0 L118.95,1000.0 L119.30,992.3 L119.65,997.1 L120.00,999.9 L120.35,1000.9 L120.70,1000.7 L121.05,1002.8 L121.40,1003.1 L121.75,995.3 L122.10,995.9 L122.45,999.8 L122.80,994.2 L123.15,1007.3 L123.50,1000.7 L123.85,1005.4 L124.20,996.4 L124.55,994.9 L124.90,997.1 L125.25,999.4 L125.60,994.0 L125.95,997.9 L126.30,996.3 L126.65,1002.9 L127.00,993.6 L127.35,1000.6 L127.70,993.6 L128.05,992.3 L128.40,993.3 L128.75,991.3 L129.10,996.8 L129.45,1000.4 L129.80,996.8 L130.15,998.6 L130.50,1002.7 L130.85,997.1 L131.20,996.8 L131.55,994.9 L131.90,989.4 L132.25,993.8 L132.60,988.7 L132.95,1002.5 L133.30,995.8 L133.65,1000.4 L134.00,995.5 L134.35,992.4 L134.70,997.2 L135.05,993.4 L135.40,994.9 L135.75,995.7 L136.10,994.8 L136.45,994.4 L136.80,991.6 L137.15,994.0 L137.50,985.8 L137.85,993.8 L138.20,989.3 L138.55,998.8 L138.90,999.2 L139.25,985.7 L139.60,994.2 L139.95,992.9 L140.30,988.9 L140.65,995.3 L141.00,991.0 L141.35,981.6 L141.70,991.4 L142.05,991.8 L142.40,992.6 L142.75,986.9 L143.10,994.4 L143.45,994.7 L143.80,986.5 L144.15,988.2 L144.50,990.2 L144.85,987.7 L145.20,997.1 L145.55,990.0 L145.90,984.4 L146.25,984.8 L146.60,987.5 L146.95,997.2 L147.30,986.0 L147.65,986.9 L148.00,988.1 L148.35,985.2 L148.70,994.9 L149.05,982.1 L149.40,987.3 L149.75,984.3 L150.10,985.8 L150.45,977.4 L150.80,990.0 L151.15,981.1 L151.50,981.3 L151.85,976.5 L152.20,976.9 L152.55,982.2 L152.90,983.5 L153.25,981.9 L153.60,983.4 L153.95,980.6 L154.30,976.9 L154.65,980.0 L155.00,978.3 L155.35,974.5 L155.70,977.8 L156.05,979.8 L156.40,974.3 L156.75,971.0 L157.10,975.5 L157.45,980.5 L157.80,969.9 L158.15,969.9 L158.50,969.1 L158.85,975.0 L159.20,959.8 L159.55,969.8 L159.90,973.2 L160.25,963.0 L160.60,973.6 L160.95,968.5 L161.30,962.8 L161.65,966.0 L162.00,957.1 L162.35,961.4 L162.70,972.7 L163.05,958.9 L163.40,972.0 L163.75,962.0 L164.10,966.9 L164.45,965.2 L164.80,949.9 L165.15,957.8 L165.50,961.2 L165.85,954.0 L166.20,952.6 L166.55,960.7 L166.90,955.2 L167.25,949.4 L167.60,954.1 L167.95,961.5 L168.30,954.3 L168.65,961.0 L169.00,963.7 L169.35,957.7 L169.70,949.1 L170.05,947.8 L170.40,953.9 L170.75,958.2 L171.10,954.6 L171.45,955.7 L171.80,950.1 L172.15,953.6 L172.50,949.2 L172.85,949.6 L173.20,944.2 L173.55,942.4 L173.90,947.8 L174.25,944.1 L174.60,944.5 L174.95,952.8 L175.30,948.3 L175.65,964.0 L176.00,953.1 L176.35,949.0 L176.70,951.6 L177.05,949.1 L177.40,943.1 L177.75,952.4 L178.10,941.9 L178.45,929.3 L178.80,949.7 L179.15,941.7 L179.50,952.7 L179.85,944.8 L180.20,937.6 L180.55,952.1 L180.90,937.5 L181.25,944.1 L181.60,950.6 L181.95,938.8 L182.30,941.6 L182.65,942.3 L183.00,946.0 L183.35,936.6 L183.70,944.1 L184.05,943.6 L184.40,953.0 L184.75,937.9 L185.10,934.4 L185.45,943.2 L185.80,936.6 L186.15,940.1 L186.50,938.9 L186.85,944.3 L187.20,933.8 L187.55,936.6 L187.90,922.5 L188.25,931.5 L188.60,944.8 L188.95,932.0 L189.30,931.5 L189.65,928.3 L190.00,938.1 L190.35,935.5 L190.70,927.6 L191.05,937.9 L191.40,935.4 L191.75,938.1 L192.10,930.1 L192.45,943.6 L192.80,936.0 L193.15,932.9 L193.50,930.6 L193.85,932.1 L194.20,938.3 L194.55,931.8 L194.90,939.4 L195.25,936.5 L195.60,940.8 L195.95,937.7 L196.30,932.7 L196.65,922.1 L197.00,934.6 L197.35,937.3 L197.70,933.7 L198.05,935.9 L198.40,930.0 L198.75,930.4 L199.10,927.1 L199.45,940.2 L199.80,933.3 L200.15,929.5 L200.50,924.6 L200.85,931.3 L201.20,940.4 L201.55,934.7 L201.90,931.9 L202.25,940.3 L202.60,934.9 L202.95,937.8 L203.30,940.4 L203.65,938.9 L204.00,935.5 L204.35,936.9 L204.70,928.0 L205.05,941.1 L205.40,933.9 L205.75,944.2 L206.10,921.1 L206.45,936.8 L206.80,932.9 L207.15,931.0 L207.50,935.6 L207.85,937.3 L208.20,936.4 L208.55,930.1 L208.90,932.4 L209.25,939.1 L209.60,940.6 L209.95,934.0 L210.30,933.9 L210.65,934.7 L211.00,939.5 L211.35,927.7 L211.70,926.2 L212.05,934.5 L212.40,927.6 L212.75,930.6 L213.10,934.4 L213.45,936.6 L213.80,927.6 L214.15,938.1 L214.50,923.3 L214.85,936.4 L215.20,924.1 L215.55,925.7 L215.90,936.5 L216.25,930.4 L216.60,928.0 L216.95,929.8 L217.30,932.8 L217.65,931.8 L218.00,931.8 L218.35,937.8 L218.70,927.5 L219.05,928.8 L219.40,928.3 L219.75,937.9 L220.10,936.8 L220.45,938.3 L220.80,930.5 L221.15,929.6 L221.50,935.2 L221.85,927.6 L222.20,934.3 L222.55,933.3 L222.90,924.6 L223.25,927.8 L223.60,927.1 L223.95,937.5 L224.30,942.1 L224.65,926.0 L225.00,926.2 L225.35,912.3 L225.70,926.5 L226.05,924.8 L226.40,918.1 L226.75,928.7 L227.10,914.3 L227.45,921.9 L227.80,923.5 L228.15,914.8 L228.50,927.0 L228.85,927.8 L229.20,912.7 L229.55,912.1 L229.90,923.8 L230.25,916.1 L230.60,912.0 L230.95,917.1 L231.30,913.6 L231.65,917.2 L232.00,922.6 L232.35,919.5 L232.70,927.5 L233.05,924.6 L233.40,919.9 L233.75,919.8 L234.10,922.8 L234.45,918.5 L234.80,910.2 L235.15,918.5 L235.50,913.1 L235.85,922.2 L236.20,912.2 L236.55,914.4 L236.90,912.6 L237.25,920.6 L237.60,910.7 L237.95,907.3 L238.30,910.5 L238.65,905.2 L239.00,908.5 L239.35,906.9 L239.70,908.2 L240.05,918.3 L240.40,902.9 L240.75,905.2 L241.10,903.1 L241.45,908.3 L241.80,895.8 L242.15,898.4 L242.50,902.1 L242.85,905.4 L243.20,901.1 L243.55,897.6 L243.90,894.7 L244.25,903.2 L244.60,908.8 L244.95,900.9 L245.30,899.5 L245.65,900.6 L246.00,890.8 L246.35,894.3 L246.70,893.9 L247.05,897.0 L247.40,894.1 L247.75,885.5 L248.10,900.6 L248.45,903.7 L248.80,889.9 L249.15,893.7 L249.50,892.1 L249.85,895.0 L250.20,878.8 L250.55,899.3 L250.90,884.4 L251.25,895.6 L251.60,886.8 L251.95,882.9 L252.30,883.9 L252.65,890.4 L253.00,877.5 L253.35,880.5 L253.70,879.6 L254.05,871.2 L254.40,892.7 L254.75,888.5 L255.10,885.3 L255.45,896.9 L255.80,880.7 L256.15,887.7 L256.50,900.9 L256.85,896.7 L257.20,875.9 L257.55,869.4 L257.90,885.8 L258.25,900.8 L258.60,891.5 L258.95,894.1 L259.30,900.5 L259.65,891.5 L260.00,899.7 L260.35,904.6 L260.70,903.7 L261.05,904.7 L261.40,894.0 L261.75,909.0 L262.10,904.9 L262.45,917.8 L262.80,927.6 L263.15,908.8 L263.50,902.0 L263.85,914.7 L264.20,921.5 L264.55,927.5 L264.90,929.6 L265.25,920.4 L265.60,922.4 L265.95,941.3 L266.30,924.1 L266.65,938.0 L267.00,931.7 L267.35,938.4 L267.70,939.1 L268.05,940.5 L268.40,941.8 L268.75,932.8 L269.10,941.0 L269.45,940.5 L269.80,943.1 L270.15,949.2 L270.50,942.1 L270.85,940.8 L271.20,941.8 L271.55,945.1 L271.90,951.8 L272.25,944.5 L272.60,956.0 L272.95,952.4 L273.30,950.5 L273.65,945.5 L274.00,954.3 L274.35,957.2 L274.70,945.0 L275.05,960.8 L275.40,963.7 L275.75,957.5 L276.10,958.8 L276.45,969.1 L276.80,963.6 L277.15,953.3 L277.50,958.3 L277.85,958.1 L278.20,958.7 L278.55,948.1 L278.90,964.3 L279.25,957.9 L279.60,962.4 L279.95,961.4 L280.30,967.0 L280.65,961.7 L281.00,959.8 L281.35,966.9 L281.70,971.7 L282.05,963.7 L282.40,972.4 L282.75,971.8 L283.10,963.9 L283.45,974.1 L283.80,963.1 L284.15,972.2 L284.50,965.2 L284.85,970.0 L285.20,962.2 L285.55,964.4 L285.90,973.8 L286.25,969.9 L286.60,969.4 L286.95,967.4 L287.30,971.9 L287.65,963.4 L288.00,965.0 L288.35,969.9 L288.70,967.0 L289.05,967.9 L289.40,971.1 L289.75,971.1 L290.10,971.0 L290.45,980.1 L290.80,977.3 L291.15,978.6 L291.50,973.0 L291.85,971.0 L292.20,966.9 L292.55,972.3 L292.90,964.5 L293.25,971.7 L293.60,978.2 L293.95,982.4 L294.30,979.5 L294.65,971.2 L295.00,977.6 L295.35,971.8 L295.70,979.4 L296.05,975.2 L296.40,979.8 L296.75,987.9 L297.10,980.4 L297.45,987.0 L297.80,977.3 L298.15,975.1 L298.50,982.8 L298.85,984.8 L299.20,969.7 L299.55,977.5 L299.90,970.7 L300.25,976.5 L300.60,981.6 L300.95,977.3 L301.30,975.3 L301.65,966.3 L302.00,979.8 L302.35,981.9 L302.70,981.1 L303.05,979.7 L303.40,972.9 L303.75,986.8 L304.10,978.7 L304.45,978.5 L304.80,982.6 L305.15,969.6 L305.50,979.2 L305.85,979.1 L306.20,981.5 L306.55,986.0 L306.90,982.2 L307.25,972.0 L307.60,978.9 L307.95,981.4 L308.30,981.3 L308.65,970.5 L309.00,979.3 L309.35,983.5 L309.70,982.8 L310.05,981.3 L310.40,973.8 L310.75,989.6 L311.10,968.8 L311.45,980.3 L311.80,991.4 L312.15,981.5 L312.50,983.4 L312.85,977.2 L313.20,990.9 L313.55,977.0 L313.90,984.0 L314.25,983.6 L314.60,978.5 L314.95,987.2 L315.30,977.2 L315.65,980.6 L316.00,983.6 L316.35,982.1 L316.70,986.1 L317.05,988.2 L317.40,983.0 L317.75,982.1 L318.10,982.3 L318.45,983.1 L318.80,988.4 L319.15,984.1 L319.50,986.9 L319.85,984.9 L320.20,986.1 L320.55,989.3 L320.90,981.2 L321.25,985.9 L321.60,992.5 L321.95,981.4 L322.30,986.0 L322.65,979.5 L323.00,984.4 L323.35,980.2 L323.70,985.3 L324.05,984.7 L324.40,987.7 L324.75,994.1 L325.10,988.6 L325.45,990.4 L325.80,987.5 L326.15,986.8 L326.50,984.4 L326.85,980.4 L327.20,990.7 L327.55,995.4 L327.90,990.6 L328.25,986.4 L328.60,995.9 L328.95,987.1 L329.30,986.5 L329.65,984.1 L330.00,985.3 L330.35,988.5 L330.70,998.2 L331.05,988.9 L331.40,985.6 L331.75,987.5 L332.10,989.3 L332.45,983.1 L332.80,987.5 L333.15,993.6 L333.50,992.1 L333.85,993.5 L334.20,985.6 L334.55,984.0 L334.90,996.8 L335.25,996.1 L335.60,985.1 L335.95,992.6 L336.30,992.0 L336.65,994.3 L337.00,993.1 L337.35,990.2 L337.70,993.3 L338.05,993.3 L338.40,992.5 L338.75,985.1 L339.10,980.5 L339.45,989.9 L339.80,986.5 L340.15,994.5 L340.50,996.5 L340.85,994.8 L341.20,992.3 L341.55,994.3 L341.90,999.0 L342.25,991.2 L342.60,998.2 L342.95,997.5 L343.30,995.7 L343.65,1000.8 L344.00,992.0 L344.35,999.0 L344.70,991.4 L345.05,992.2 L345.40,991.1 L345.75,997.5 L346.10,991.9 L346.45,996.1 L346.80,991.4 L347.15,1000.5 L347.50,1003.8 L347.85,997.4 L348.20,1003.3 L348.55,999.0 L348.90,1001.2 L349.25,997.3 L349.60,990.6 L349.95,1003.2 L350.30,996.7 L350.65,993.1 L351.00,990.1 L351.35,990.9 L351.70,997.0 L352.05,993.4 L352.40,1003.9 L352.75,1000.7 L353.10,991.4 L353.45,992.1 L353.80,996.0 L354.15,990.6 L354.50,998.0 L354.85,998.4 L355.20,995.6 L355.55,996.6 L355.90,1000.9 L356.25,1004.7 L356.60,1005.1 L356.95,999.4 L357.30,1002.8 L357.65,996.5 L358.00,1001.2 L358.35,995.8 L358.70,1002.7 L359.05,994.9 L359.40,996.1 L359.75,1000.0 L360.10,1002.4 L360.45,994.5 L360.80,998.2 L361.15,1001.0 L361.50,999.3 L361.85,997.4 L362.20,1001.2 L362.55,999.9 L362.90,1006.6 L363.25,1003.3 L363.60,996.0 L363.95,992.6 L364.30,1001.8 L364.65,1006.2 L365.00,1002.3 L365.35,1005.2 L365.70,1000.0 L366.05,996.6 L366.40,1005.0 L366.75,1002.6 L367.10,1005.0 L367.45,997.0 L367.80,1003.2 L368.15,1000.2 L368.50,1005.9 L368.85,1000.5 L369.20,1000.5 L369.55,1000.7 L369.90,1008.1 L370.25,1003.3 L370.60,1000.3 L370.95,999.4 L371.30,999.4 L371.65,1009.2 L372.00,996.5 L372.35,1000.3 L372.70,1006.2 L373.05,1008.4 L373.40,1003.3 L373.75,1007.0 L374.10,1007.0 L374.45,1007.9 L374.80,1004.3 L375.15,1010.7 L375.50,1005.1 L375.85,1010.4 L376.20,1000.2 L376.55,1008.2 L376.90,999.8 L377.25,998.9 L377.60,1006.7 L377.95,1001.7 L378.30,1006.7 L378.65,1000.9 L379.00,1011.3 L379.35,1005.2 L379.70,1000.9 L380.05,1010.6 L380.40,1008.8 L380.75,1002.5 L381.10,1007.6 L381.45,1013.6 L381.80,1009.1 L382.15,1001.3 L382.50,1003.7 L382.85,1008.2 L383.20,1002.2 L383.55,994.4 L383.90,1003.6 L384.25,1002.1 L384.60,1013.0 L384.95,1006.9 L385.30,1002.7 L385.65,1002.1 L386.00,1008.5 L386.35,1003.5 L386.70,1004.5 L387.05,1006.5 L387.40,1007.3 L387.75,1007.4 L388.10,1007.5 L388.45,1012.1 L388.80,1013.7 L389.15,1001.0 L389.50,1017.2 L389.85,1007.9 L390.20,1012.2 L390.55,1004.8 L390.90,1008.9 L391.25,1008.5 L391.60,1008.2 L391.95,1011.1 L392.30,1010.4 L392.65,1004.3 L393.00,1007.7 L393.35,1011.1 L393.70,1011.0 L394.05,1007.2 L394.40,1007.5 L394.75,1008.1 L395.10,1004.7 L395.45,1004.1 L395.80,1015.0 L396.15,1007.7 L396.50,1009.6 L396.85,1006.5 L397.20,1014.3 L397.55,1016.1 L397.90,1008.8 L398.25,1011.7 L398.60,1007.0 L398.95,1016.6 L399.30,1013.6 L399.65,1007.1 L400.00,1015.0 L400.35,1011.8 L400.70,1012.1 L401.05,1012.0 L401.40,1008.2 L401.75,1008.8 L402.10,1013.2 L402.45,1010.8 L402.80,1007.6 L403.15,1018.8 L403.50,1010.6 L403.85,1009.3 L404.20,1008.9 L404.55,1014.2 L404.90,1015.3 L405.25,1012.7 L405.60,1015.1 L405.95,1006.4 L406.30,1010.7 L406.65,1010.4 L407.00,1012.3 L407.35,1014.2 L407.70,1004.9 L408.05,1024.1 L408.40,1009.4 L408.75,1014.0 L409.10,1015.9 L409.45,1016.0 L409.80,1013.9 L410.15,1002.4 L410.50,1009.2 L410.85,1016.1 L411.20,1010.0 L411.55,1007.1 L411.90,1004.9 L412.25,1014.2 L412.60,1015.6 L412.95,1010.5 L413.30,1013.4 L413.65,1013.6 L414.00,1010.0 L414.35,1018.5 L414.70,1015.2 L415.05,1016.3 L415.40,1019.0 L415.75,1014.6 L416.10,1012.9 L416.45,1016.1 L416.80,1012.4 L417.15,1010.2 L417.50,1018.9 L417.85,1013.5 L418.20,1018.8 L418.55,1017.4 L418.90,1016.0 L419.25,1017.5 L419.60,1016.9 L419.95,1015.0 L420.30,1016.8 L420.65,1012.7 L421.00,1007.6 L421.35,1014.6 L421.70,1012.4 L422.05,1018.9 L422.40,1016.8 L422.75,1014.0 L423.10,1016.1 L423.45,1020.9 L423.80,1020.2 L424.15,1017.5 L424.50,1017.8 L424.85,1015.3 L425.20,1015.9 L425.55,1018.6 L425.90,1016.1 L426.25,1017.7 L426.60,1012.7 L426.95,1010.8 L427.30,1010.8 L427.65,1015.4 L428.00,1021.7 L428.35,1021.3 L428.70,1013.6 L429.05,1011.7 L429.40,1022.5 L429.75,1019.0 L430.10,1012.6 L430.45,1021.3 L430.80,1018.2 L431.15,1022.3 L431.50,1018.9 L431.85,1021.0 L432.20,1019.0 L432.55,1014.6 L432.90,1017.2 L433.25,1015.7 L433.60,1026.5 L433.95,1014.7 L434.30,1012.9 L434.65,1020.8 L435.00,1022.5 L435.35,1023.6 L435.70,1022.4 L436.05,1013.3 L436.40,1016.2 L436.75,1016.8 L437.10,1018.7 L437.45,1011.2 L437.80,1018.8 L438.15,1019.8 L438.50,1020.3 L438.85,1019.3 L439.20,1023.1 L439.55,1019.2 L439.90,1022.7 L440.25,1022.6 L440.60,1020.5 L440.95,1020.5 L441.30,1017.9 L441.65,1023.6 L442.00,1017.6 L442.35,1016.8 L442.70,1021.8 L443.05,1016.8 L443.40,1020.9 L443.75,1023.1 L444.10,1019.7 L444.45,1019.8 L444.80,1022.7 L445.15,1022.2 L445.50,1014.2 L445.85,1015.0 L446.20,1021.5 L446.55,1021.1 L446.90,1012.5 L447.25,1015.1 L447.60,1017.5 L447.95,1016.4 L448.30,1021.5 L448.65,1020.2 L449.00,1021.7 L449.35,1015.9 L449.70,1022.2 L450.05,1026.9 L450.40,1017.3 L450.75,1024.7 L451.10,1023.6 L451.45,1018.0 L451.80,1025.4 L452.15,1016.2 L452.50,1017.2 L452.85,1023.0 L453.20,1023.8 L453.55,1024.7 L453.90,1023.8 L454.25,1019.4 L454.60,1019.0 L454.95,1016.4 L455.30,1021.3 L455.65,1022.4 L456.00,1021.0 L456.35,1015.4 L456.70,1018.9 L457.05,1015.6 L457.40,1021.3 L457.75,1017.2 L458.10,1020.3 L458.45,1022.0 L458.80,1021.4 L459.15,1025.7 L459.50,1017.2 L459.85,1013.5 L460.20,1024.3 L460.55,1026.0 L460.90,1026.1 L461.25,1022.2 L461.60,1023.1 L461.95,1021.7 L462.30,1016.8 L462.65,1017.3 L463.00,1023.1 L463.35,1019.4 L463.70,1028.0 L464.05,1016.1 L464.40,1020.0 L464.75,1025.4 L465.10,1019.5 L465.45,1017.7 L465.80,1016.9 L466.15,1019.2 L466.50,1026.9 L466.85,1023.1 L467.20,1023.5 L467.55,1020.0 L467.90,1024.7 L468.25,1022.2 L468.60,1018.7 L468.95,1020.4 L469.30,1019.5 L469.65,1026.0 L470.00,1021.8 L470.35,1023.8 L470.70,1029.1 L471.05,1019.4 L471.40,1017.9 L471.75,1025.6 L472.10,1023.8 L472.45,1022.0 L472.80,1023.2 L473.15,1021.2 L473.50,1024.2 L473.85,1021.3 L474.20,1025.2 L474.55,1018.5 L474.90,1019.7 L475.25,1023.0 L475.60,1021.0 L475.95,1025.0 L476.30,1022.5 L476.65,1020.9 L477.00,1023.5 L477.35,1021.0 L477.70,1017.5 L478.05,1019.0 L478.40,1020.2 L478.75,1025.2 L479.10,1023.3 L479.45,1026.1 L479.80,1024.9 L480.15,1029.2 L480.50,1027.5 L480.85,1024.5 L481.20,1028.8 L481.55,1027.3 L481.90,1021.7 L482.25,1024.4 L482.60,1027.1 L482.95,1024.2 L483.30,1026.9 L483.65,1024.8 L484.00,1025.9 L484.35,1022.5 L484.70,1024.9 L485.05,1022.4 L485.40,1025.9 L485.75,1017.9 L486.10,1024.9 L486.45,1028.0 L486.80,1025.8 L487.15,1023.7 L487.50,1025.7 L487.85,1021.0 L488.20,1021.1 L488.55,1022.8 L488.90,1023.5 L489.25,1027.3 L489.60,1021.1 L489.95,1027.5 L490.30,1018.8 L490.65,1021.5 L491.00,1024.1 L491.35,1028.2 L491.70,1022.2 L492.05,1017.1 L492.40,1025.8 L492.75,1024.3 L493.10,1020.8 L493.45,1020.9 L493.80,1022.2 L494.15,1024.9 L494.50,1026.8 L494.85,1019.6 L495.20,1032.4 L495.55,1024.6 L495.90,1023.5 L496.25,1027.0 L496.60,1025.2 L496.95,1032.7 L497.30,1028.6 L497.65,1023.7 L498.00,1023.7 L498.35,1023.4 L498.70,1024.0 L499.05,1027.5 L499.40,1023.1 L499.75,1030.8 L500.10,1025.2 L500.45,1025.0 L500.80,1028.7 L501.15,1019.0 L501.50,1022.6 L501.85,1027.8 L502.20,1025.9 L502.55,1025.9 L502.90,1027.3 L503.25,1024.1 L503.60,1025.6 L503.95,1021.7 L504.30,1020.0 L504.65,1030.5 L505.00,1023.3 L505.35,1024.1 L505.70,1031.2 L506.05,1032.2 L506.40,1024.9 L506.75,1025.0 L507.10,1026.6 L507.45,1023.7 L507.80,1028.8 L508.15,1027.5 L508.50,1027.5 L508.85,1029.7 L509.20,1029.6 L509.55,1033.4 L509.90,1032.4 L510.25,1021.8 L510.60,1030.5 L510.95,1023.9 L511.30,1023.0 L511.65,1030.1 L512.00,1025.5 L512.35,1026.8 L512.70,1031.5 L513.05,1025.8 L513.40,1025.1 L513.75,1029.2 L514.10,1032.2 L514.45,1030.0 L514.80,1023.3 L515.15,1026.3 L515.50,1028.0 L515.85,1034.9 L516.20,1031.6 L516.55,1031.5 L516.90,1032.7 L517.25,1027.8 L517.60,1030.5 L517.95,1030.6 L518.30,1025.8 L518.65,1029.0 L519.00,1031.0 L519.35,1025.7 L519.70,1031.8 L520.05,1031.7 L520.40,1032.7 L520.75,1026.8 L521.10,1029.8 L521.45,1034.2 L521.80,1032.1 L522.15,1027.0 L522.50,1030.3 L522.85,1034.2 L523.20,1029.4 L523.55,1031.0 L523.90,1034.4 L524.25,1029.7 L524.60,1029.5 L524.95,1026.7 L525.30,1027.8 L525.65,1034.8 L526.00,1029.6 L526.35,1026.3 L526.70,1027.1 L527.05,1030.2 L527.40,1032.7 L527.75,1027.9 L528.10,1032.6 L528.45,1028.8 L528.80,1031.6 L529.15,1032.1 L529.50,1032.5 L529.85,1029.2 L530.20,1030.1 L530.55,1029.7 L530.90,1026.5 L531.25,1031.3 L531.60,1032.4 L531.95,1034.2 L532.30,1030.7 L532.65,1030.3 L533.00,1031.4 L533.35,1028.6 L533.70,1030.4 L534.05,1032.4 L534.40,1032.0 L534.75,1027.8 L535.10,1030.2 L535.45,1024.5 L535.80,1033.8 L536.15,1029.6 L536.50,1032.1 L536.85,1027.9 L537.20,1031.2 L537.55,1032.9 L537.90,1034.7 L538.25,1027.2 L538.60,1034.3 L538.95,1031.1 L539.30,1024.0 L539.65,1033.3 L540.00,1030.9 L540.35,1030.9 L540.70,1033.2 L541.05,1032.6 L541.40,1032.1 L541.75,1031.4 L542.10,1029.0 L542.45,1030.5 L542.80,1033.4 L543.15,1036.2 L543.50,1032.1 L543.85,1036.7 L544.20,1032.3 L544.55,1028.9 L544.90,1034.4 L545.25,1029.4 L545.60,1033.7 L545.95,1035.9 L546.30,1031.6 L546.65,1032.3 L547.00,1040.4 L547.35,1033.4 L547.70,1033.5 L548.05,1035.2 L548.40,1032.5 L548.75,1032.6 L549.10,1034.1 L549.45,1025.4 L549.80,1037.4 L550.15,1029.7 L550.50,1029.7 L550.85,1034.8 L551.20,1033.2 L551.55,1029.3 L551.90,1033.9 L552.25,1029.7 L552.60,1031.1 L552.95,1028.6 L553.30,1030.8 L553.65,1034.7 L554.00,1033.9 L554.35,1029.1 L554.70,1036.5 L555.05,1033.5 L555.40,1031.6 L555.75,1032.8 L556.10,1038.9 L556.45,1033.9 L556.80,1034.8 L557.15,1033.6 L557.50,1034.7 L557.85,1035.3 L558.20,1034.0 L558.55,1033.6 L558.90,1031.6 L559.25,1031.5 L559.60,1035.4 L559.95,1036.5 L560.30,1037.1 L560.65,1034.4 L561.00,1031.7 L561.35,1036.2 L561.70,1036.2 L562.05,1029.6 L562.40,1033.3 L562.75,1032.8 L563.10,1039.6 L563.45,1030.9 L563.80,1030.5 L564.15,1036.9 L564.50,1028.9 L564.85,1032.3 L565.20,1031.2 L565.55,1031.5 L565.90,1028.7 L566.25,1033.9 L566.60,1037.7 L566.95,1036.1 L567.30,1036.1 L567.65,1033.7 L568.00,1039.3 L568.35,1031.6 L568.70,1042.6 L569.05,1030.1 L569.40,1036.0 L569.75,1031.4 L570.10,1036.1 L570.45,1035.6 L570.80,1031.6 L571.15,1035.6 L571.50,1038.7 L571.85,1036.7 L572.20,1037.0 L572.55,1032.5 L572.90,1033.1 L573.25,1031.8 L573.60,1035.7 L573.95,1039.0 L574.30,1036.7 L574.65,1035.3 L575.00,1031.9 L575.35,1036.8 L575.70,1034.7 L576.05,1029.6 L576.40,1030.2 L576.75,1034.5 L577.10,1032.8 L577.45,1040.7 L577.80,1035.7 L578.15,1032.4 L578.50,1034.2 L578.85,1040.6 L579.20,1032.8 L579.55,1038.1 L579.90,1037.1 L580.25,1040.3 L580.60,1037.4 L580.95,1034.6 L581.30,1037.5 L581.65,1036.1 L582.00,1038.9 L582.35,1035.7 L582.70,1042.0 L583.05,1035.7 L583.40,1037.3 L583.75,1034.0 L584.10,1036.4 L584.45,1036.2 L584.80,1036.6 L585.15,1038.9 L585.50,1034.5 L585.85,1033.6 L586.20,1039.6 L586.55,1035.3 L586.90,1034.2 L587.25,1039.8 L587.60,1038.7 L587.95,1028.2 L588.30,1035.2 L588.65,1038.8 L589.00,1038.9 L589.35,1034.8 L589.70,1041.2 L590.05,1034.0 L590.40,1035.8 L590.75,1036.9 L591.10,1036.5 L591.45,1039.0 L591.80,1039.7 L592.15,1036.5 L592.50,1040.9 L592.85,1034.6 L593.20,1036.0 L593.55,1041.9 L593.90,1037.0 L594.25,1040.0 L594.60,1031.4 L594.95,1036.0 L595.30,1036.5 L595.65,1037.4 L596.00,1035.8 L596.35,1036.9 L596.70,1039.0 L597.05,1043.3 L597.40,1037.3 L597.75,1039.0 L598.10,1039.8 L598.45,1033.8 L598.80,1032.3 L599.15,1042.0 L599.50,1041.1 L599.85,1037.3 L600.20,1038.2 L600.55,1034.3 L600.90,1033.0 L601.25,1038.2 L601.60,1032.7 L601.95,1040.0 L602.30,1035.2 L602.65,1038.2 L603.00,1043.2 L603.35,1043.0 L603.70,1036.5 L604.05,1040.6 L604.40,1034.3 L604.75,1035.6 L605.10,1038.5 L605.45,1041.6 L605.80,1035.7 L606.15,1039.1 L606.50,1037.8 L606.85,1033.7 L607.20,1037.1 L607.55,1042.1 L607.90,1037.3 L608.25,1039.1 L608.60,1040.1 L608.95,1035.4 L609.30,1041.4 L609.65,1042.2 L610.00,1042.5 L610.35,1041.7 L610.70,1036.3 L611.05,1036.0 L611.40,1035.4 L611.75,1035.1 L612.10,1035.4 L612.45,1040.8 L612.80,1042.3 L613.15,1035.9 L613.50,1040.3 L613.85,1034.1 L614.20,1036.9 L614.55,1034.9 L614.90,1033.1 L615.25,1038.1 L615.60,1038.2 L615.95,1036.8 L616.30,1036.5 L616.65,1035.1 L617.00,1037.7 L617.35,1036.3 L617.70,1038.8 L618.05,1034.5 L618.40,1038.8 L618.75,1039.7 L619.10,1041.9 L619.45,1041.4 L619.80,1038.8 L620.15,1036.2 L620.50,1032.7 L620.85,1038.2 L621.20,1042.5 L621.55,1043.2 L621.90,1030.6 L622.25,1035.9 L622.60,1037.2 L622.95,1035.1 L623.30,1038.8 L623.65,1038.3 L624.00,1036.7 L624.35,1038.1 L624.70,1033.4 L625.05,1035.3 L625.40,1035.5 L625.75,1040.9 L626.10,1033.3 L626.45,1037.6 L626.80,1040.6 L627.15,1038.1 L627.50,1040.7 L627.85,1036.2 L628.20,1039.5 L628.55,1040.9 L628.90,1045.0 L629.25,1040.4 L629.60,1042.5 L629.95,1038.3 L630.30,1038.5 L630.65,1043.0 L631.00,1040.0 L631.35,1042.5 L631.70,1040.4 L632.05,1044.6 L632.40,1045.4 L632.75,1035.7 L633.10,1043.9 L633.45,1039.6 L633.80,1039.7 L634.15,1037.9 L634.50,1040.4 L634.85,1034.9 L635.20,1036.1 L635.55,1036.0 L635.90,1039.1 L636.25,1041.1 L636.60,1037.9 L636.95,1039.4 L637.30,1036.5 L637.65,1027.3 L638.00,1039.5 L638.35,1038.7 L638.70,1039.4 L639.05,1046.2 L639.40,1037.7 L639.75,1037.7 L640.10,1031.3 L640.45,1040.0 L640.80,1038.2 L641.15,1036.1 L641.50,1039.5 L641.85,1035.2 L642.20,1036.7 L642.55,1044.3 L642.90,1040.6 L643.25,1041.2 L643.60,1040.7 L643.95,1040.3 L644.30,1039.0 L644.65,1045.3 L645.00,1038.2 L645.35,1040.7 L645.70,1037.8 L646.05,1037.4 L646.40,1031.1 L646.75,1032.7 L647.10,1043.2 L647.45,1043.0 L647.80,1037.2 L648.15,1038.4 L648.50,1040.4 L648.85,1035.5 L649.20,1043.9 L649.55,1035.4 L649.90,1036.4 L650.25,1030.3 L650.60,1043.2 L650.95,1038.8 L651.30,1043.5 L651.65,1035.6 L652.00,1039.6 L652.35,1038.9 L652.70,1039.2 L653.05,1044.9 L653.40,1045.5 L653.75,1042.8 L654.10,1037.5 L654.45,1041.4 L654.80,1042.8 L655.15,1040.4 L655.50,1040.4 L655.85,1040.2 L656.20,1036.0 L656.55,1039.5 L656.90,1043.6 L657.25,1035.8 L657.60,1039.0 L657.95,1041.3 L658.30,1034.7 L658.65,1038.4 L659.00,1033.7 L659.35,1037.0 L659.70,1034.6 L660.05,1036.2 L660.40,1037.4 L660.75,1038.1 L661.10,1038.3 L661.45,1031.7 L661.80,1043.7 L662.15,1038.1 L662.50,1035.6 L662.85,1037.1 L663.20,1039.9 L663.55,1041.7 L663.90,1037.7 L664.25,1037.6 L664.60,1040.6" stroke="#4a4a4a" stroke-width="1.8"/>
</g>
<g stroke="#2a2a2a" stroke-width="2"><line x1="60.5" y1="1060" x2="60.5" y2="1064.2"/>
<line x1="115.7" y1="1060" x2="115.7" y2="1069"/>
<line x1="170.9" y1="1060" x2="170.9" y2="1064.2"/>
<line x1="226.0" y1="1060" x2="226.0" y2="1069"/>
<line x1="281.2" y1="1060" x2="281.2" y2="1064.2"/>
<line x1="336.4" y1="1060" x2="336.4" y2="1069"/>
<line x1="391.6" y1="1060" x2="391.6" y2="1064.2"/>
<line x1="446.8" y1="1060" x2="446.8" y2="1069"/>
<line x1="502.0" y1="1060" x2="502.0" y2="1064.2"/>
<line x1="557.1" y1="1060" x2="557.1" y2="1069"/>
<line x1="612.3" y1="1060" x2="612.3" y2="1064.2"/>
<line x1="667.5" y1="1060" x2="667.5" y2="1069"/></g>
<g font-size="27.5" font-weight="bold" fill="#111"><text x="115.7" y="1095.5" text-anchor="middle">10</text>
<text x="226.0" y="1095.5" text-anchor="middle">20</text>
<text x="336.4" y="1095.5" text-anchor="middle">30</text>
<text x="446.8" y="1095.5" text-anchor="middle">40</text>
<text x="557.1" y="1095.5" text-anchor="middle">50</text>
<text x="667.5" y="1095.5" text-anchor="middle">60</text></g>
<text x="97" y="628.7" font-size="39" font-weight="bold" fill="#111" letter-spacing="1.0">(B)</text>
<text x="372" y="793.5" font-size="39" font-weight="bold" fill="#0000ff">c</text>
<text x="368" y="912.5" font-size="39" font-weight="bold" fill="#f00">b</text>
<text x="367" y="991" font-size="40" fill="#222">a</text>
<text transform="translate(32,948) rotate(-90)" font-size="40.5" font-weight="bold" fill="#111">(Intensity/a.u.)</text>
<text x="324.5" y="1137.5" font-size="38" font-weight="bold" fill="#111">2</text>
<text x="355.5" y="1137.5" font-size="39" font-weight="bold" fill="#111">&#952;</text>
<line x1="385.8" y1="1111" x2="376" y2="1137" stroke="#111" stroke-width="2"/>
<ellipse cx="394.7" cy="1117.5" rx="6" ry="5" fill="none" stroke="#111" stroke-width="2.4"/>
</svg>
</body></html>
